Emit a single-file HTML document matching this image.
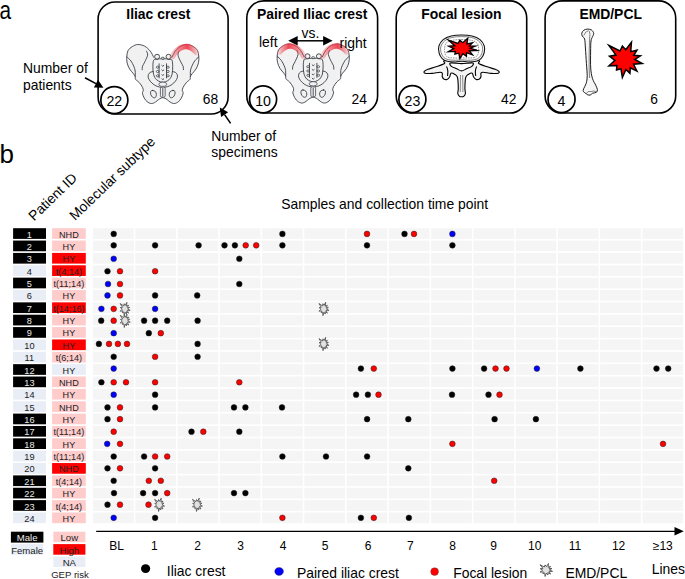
<!DOCTYPE html>
<html><head><meta charset="utf-8"><style>
html,body{margin:0;padding:0;background:#fff;}
svg{display:block;}
svg text{font-family:"Liberation Sans", sans-serif;}
</style></head><body>
<svg width="685" height="579" viewBox="0 0 685 579">
<text transform="translate(-0.6,18.8) scale(0.8,1)" font-size="26" fill="#000">a</text>
<text x="-0.5" y="163" font-size="26" fill="#000">b</text>
<rect x="98.1" y="2.0" width="130.0" height="112.0" rx="17" ry="17" fill="none" stroke="#000" stroke-width="1.6"/>
<rect x="246.8" y="0.85" width="130.8" height="112.2" rx="17" ry="17" fill="none" stroke="#000" stroke-width="1.6"/>
<rect x="396.2" y="0.85" width="130.5" height="112.2" rx="17" ry="17" fill="none" stroke="#000" stroke-width="1.6"/>
<rect x="545.1" y="0.85" width="130.6" height="112.2" rx="17" ry="17" fill="none" stroke="#000" stroke-width="1.6"/>
<text x="126.3" y="19" font-size="13.9" font-weight="bold">Iliac crest</text>
<text x="257.0" y="19" font-size="13.9" font-weight="bold">Paired Iliac crest</text>
<text x="421.2" y="19" font-size="13.9" font-weight="bold">Focal lesion</text>
<text x="579.4" y="19" font-size="13.9" font-weight="bold">EMD/PCL</text>
<circle cx="114.35" cy="100.05" r="13.5" fill="#fff" stroke="#000" stroke-width="1.7"/>
<text x="114.35" y="105.6" font-size="14.2" text-anchor="middle">22</text>
<circle cx="263.1" cy="99.3" r="13.5" fill="#fff" stroke="#000" stroke-width="1.7"/>
<text x="263.1" y="105.6" font-size="14.2" text-anchor="middle">10</text>
<circle cx="412.4" cy="99.15" r="13.5" fill="#fff" stroke="#000" stroke-width="1.7"/>
<text x="412.4" y="105.6" font-size="14.2" text-anchor="middle">23</text>
<circle cx="561.55" cy="99.15" r="13.5" fill="#fff" stroke="#000" stroke-width="1.7"/>
<text x="561.55" y="105.6" font-size="14.2" text-anchor="middle">4</text>
<text x="210.4" y="104" font-size="13.8" text-anchor="middle">68</text>
<text x="359.3" y="104" font-size="13.8" text-anchor="middle">24</text>
<text x="508.8" y="104" font-size="13.8" text-anchor="middle">42</text>
<text x="654.1" y="104" font-size="13.8" text-anchor="middle">6</text>
<text x="23" y="72.8" font-size="13.9">Number of</text>
<text x="23" y="89.5" font-size="13.9">patients</text>
<text x="211.3" y="140.6" font-size="13.9">Number of</text>
<text x="211.3" y="157.1" font-size="13.9">specimens</text>
<line x1="85" y1="77.7" x2="95.93" y2="83.64" stroke="#000" stroke-width="1.6"/>
<polygon points="103.4,87.7 93.88,87.42 97.98,79.86" fill="#000"/>
<line x1="230.6" y1="123.4" x2="224.60" y2="114.62" stroke="#000" stroke-width="1.6"/>
<polygon points="219.8,107.6 228.15,112.19 221.05,117.04" fill="#000"/>
<text transform="translate(34,221.5) rotate(-44)" font-size="13.9">Patient ID</text>
<text transform="translate(75,221) rotate(-44)" font-size="13.9">Molecular subtype</text>
<text x="281.2" y="209.4" font-size="13.9">Samples and collection time point</text>
<rect x="13.1" y="228.20" width="32.9" height="10.7" fill="#000"/>
<text transform="translate(29.4,237.60) scale(0.95,1)" font-size="9.7" text-anchor="middle" fill="#e8e8e8">1</text>
<rect x="52.1" y="228.20" width="33.7" height="10.7" fill="#ffcccc"/>
<text transform="translate(68.9,237.60) scale(0.92,1)" font-size="9.9" text-anchor="middle" fill="#222">NHD</text>
<rect x="93.06" y="228.20" width="40.7" height="10.7" fill="#f5f5f5"/>
<rect x="135.32" y="228.20" width="40.7" height="10.7" fill="#f5f5f5"/>
<rect x="177.58" y="228.20" width="40.7" height="10.7" fill="#f5f5f5"/>
<rect x="219.84" y="228.20" width="40.7" height="10.7" fill="#f5f5f5"/>
<rect x="262.10" y="228.20" width="40.7" height="10.7" fill="#f5f5f5"/>
<rect x="304.36" y="228.20" width="40.7" height="10.7" fill="#f5f5f5"/>
<rect x="346.62" y="228.20" width="40.7" height="10.7" fill="#f5f5f5"/>
<rect x="388.88" y="228.20" width="40.7" height="10.7" fill="#f5f5f5"/>
<rect x="431.14" y="228.20" width="40.7" height="10.7" fill="#f5f5f5"/>
<rect x="473.40" y="228.20" width="40.7" height="10.7" fill="#f5f5f5"/>
<rect x="515.66" y="228.20" width="40.7" height="10.7" fill="#f5f5f5"/>
<rect x="557.92" y="228.20" width="40.7" height="10.7" fill="#f5f5f5"/>
<rect x="600.18" y="228.20" width="40.7" height="10.7" fill="#f5f5f5"/>
<rect x="642.44" y="228.20" width="40.7" height="10.7" fill="#f5f5f5"/>
<rect x="13.1" y="240.56" width="32.9" height="10.7" fill="#000"/>
<text transform="translate(29.4,249.96) scale(0.95,1)" font-size="9.7" text-anchor="middle" fill="#e8e8e8">2</text>
<rect x="52.1" y="240.56" width="33.7" height="10.7" fill="#ffcccc"/>
<text transform="translate(68.9,249.96) scale(0.92,1)" font-size="9.9" text-anchor="middle" fill="#222">HY</text>
<rect x="93.06" y="240.56" width="40.7" height="10.7" fill="#f5f5f5"/>
<rect x="135.32" y="240.56" width="40.7" height="10.7" fill="#f5f5f5"/>
<rect x="177.58" y="240.56" width="40.7" height="10.7" fill="#f5f5f5"/>
<rect x="219.84" y="240.56" width="40.7" height="10.7" fill="#f5f5f5"/>
<rect x="262.10" y="240.56" width="40.7" height="10.7" fill="#f5f5f5"/>
<rect x="304.36" y="240.56" width="40.7" height="10.7" fill="#f5f5f5"/>
<rect x="346.62" y="240.56" width="40.7" height="10.7" fill="#f5f5f5"/>
<rect x="388.88" y="240.56" width="40.7" height="10.7" fill="#f5f5f5"/>
<rect x="431.14" y="240.56" width="40.7" height="10.7" fill="#f5f5f5"/>
<rect x="473.40" y="240.56" width="40.7" height="10.7" fill="#f5f5f5"/>
<rect x="515.66" y="240.56" width="40.7" height="10.7" fill="#f5f5f5"/>
<rect x="557.92" y="240.56" width="40.7" height="10.7" fill="#f5f5f5"/>
<rect x="600.18" y="240.56" width="40.7" height="10.7" fill="#f5f5f5"/>
<rect x="642.44" y="240.56" width="40.7" height="10.7" fill="#f5f5f5"/>
<rect x="13.1" y="252.92" width="32.9" height="10.7" fill="#000"/>
<text transform="translate(29.4,262.32) scale(0.95,1)" font-size="9.7" text-anchor="middle" fill="#e8e8e8">3</text>
<rect x="52.1" y="252.92" width="33.7" height="10.7" fill="#ff0000"/>
<text transform="translate(68.9,262.32) scale(0.92,1)" font-size="9.9" text-anchor="middle" fill="#222">HY</text>
<rect x="93.06" y="252.92" width="40.7" height="10.7" fill="#f5f5f5"/>
<rect x="135.32" y="252.92" width="40.7" height="10.7" fill="#f5f5f5"/>
<rect x="177.58" y="252.92" width="40.7" height="10.7" fill="#f5f5f5"/>
<rect x="219.84" y="252.92" width="40.7" height="10.7" fill="#f5f5f5"/>
<rect x="262.10" y="252.92" width="40.7" height="10.7" fill="#f5f5f5"/>
<rect x="304.36" y="252.92" width="40.7" height="10.7" fill="#f5f5f5"/>
<rect x="346.62" y="252.92" width="40.7" height="10.7" fill="#f5f5f5"/>
<rect x="388.88" y="252.92" width="40.7" height="10.7" fill="#f5f5f5"/>
<rect x="431.14" y="252.92" width="40.7" height="10.7" fill="#f5f5f5"/>
<rect x="473.40" y="252.92" width="40.7" height="10.7" fill="#f5f5f5"/>
<rect x="515.66" y="252.92" width="40.7" height="10.7" fill="#f5f5f5"/>
<rect x="557.92" y="252.92" width="40.7" height="10.7" fill="#f5f5f5"/>
<rect x="600.18" y="252.92" width="40.7" height="10.7" fill="#f5f5f5"/>
<rect x="642.44" y="252.92" width="40.7" height="10.7" fill="#f5f5f5"/>
<rect x="13.1" y="265.28" width="32.9" height="10.7" fill="#e9edf6"/>
<text transform="translate(29.4,274.68) scale(0.95,1)" font-size="9.7" text-anchor="middle" fill="#222">4</text>
<rect x="52.1" y="265.28" width="33.7" height="10.7" fill="#ff0000"/>
<text transform="translate(68.9,274.68) scale(0.92,1)" font-size="9.9" text-anchor="middle" fill="#222">t(4;14)</text>
<rect x="93.06" y="265.28" width="40.7" height="10.7" fill="#f5f5f5"/>
<rect x="135.32" y="265.28" width="40.7" height="10.7" fill="#f5f5f5"/>
<rect x="177.58" y="265.28" width="40.7" height="10.7" fill="#f5f5f5"/>
<rect x="219.84" y="265.28" width="40.7" height="10.7" fill="#f5f5f5"/>
<rect x="262.10" y="265.28" width="40.7" height="10.7" fill="#f5f5f5"/>
<rect x="304.36" y="265.28" width="40.7" height="10.7" fill="#f5f5f5"/>
<rect x="346.62" y="265.28" width="40.7" height="10.7" fill="#f5f5f5"/>
<rect x="388.88" y="265.28" width="40.7" height="10.7" fill="#f5f5f5"/>
<rect x="431.14" y="265.28" width="40.7" height="10.7" fill="#f5f5f5"/>
<rect x="473.40" y="265.28" width="40.7" height="10.7" fill="#f5f5f5"/>
<rect x="515.66" y="265.28" width="40.7" height="10.7" fill="#f5f5f5"/>
<rect x="557.92" y="265.28" width="40.7" height="10.7" fill="#f5f5f5"/>
<rect x="600.18" y="265.28" width="40.7" height="10.7" fill="#f5f5f5"/>
<rect x="642.44" y="265.28" width="40.7" height="10.7" fill="#f5f5f5"/>
<rect x="13.1" y="277.64" width="32.9" height="10.7" fill="#000"/>
<text transform="translate(29.4,287.04) scale(0.95,1)" font-size="9.7" text-anchor="middle" fill="#e8e8e8">5</text>
<rect x="52.1" y="277.64" width="33.7" height="10.7" fill="#ffcccc"/>
<text transform="translate(68.9,287.04) scale(0.92,1)" font-size="9.9" text-anchor="middle" fill="#222">t(11;14)</text>
<rect x="93.06" y="277.64" width="40.7" height="10.7" fill="#f5f5f5"/>
<rect x="135.32" y="277.64" width="40.7" height="10.7" fill="#f5f5f5"/>
<rect x="177.58" y="277.64" width="40.7" height="10.7" fill="#f5f5f5"/>
<rect x="219.84" y="277.64" width="40.7" height="10.7" fill="#f5f5f5"/>
<rect x="262.10" y="277.64" width="40.7" height="10.7" fill="#f5f5f5"/>
<rect x="304.36" y="277.64" width="40.7" height="10.7" fill="#f5f5f5"/>
<rect x="346.62" y="277.64" width="40.7" height="10.7" fill="#f5f5f5"/>
<rect x="388.88" y="277.64" width="40.7" height="10.7" fill="#f5f5f5"/>
<rect x="431.14" y="277.64" width="40.7" height="10.7" fill="#f5f5f5"/>
<rect x="473.40" y="277.64" width="40.7" height="10.7" fill="#f5f5f5"/>
<rect x="515.66" y="277.64" width="40.7" height="10.7" fill="#f5f5f5"/>
<rect x="557.92" y="277.64" width="40.7" height="10.7" fill="#f5f5f5"/>
<rect x="600.18" y="277.64" width="40.7" height="10.7" fill="#f5f5f5"/>
<rect x="642.44" y="277.64" width="40.7" height="10.7" fill="#f5f5f5"/>
<rect x="13.1" y="290.00" width="32.9" height="10.7" fill="#e9edf6"/>
<text transform="translate(29.4,299.40) scale(0.95,1)" font-size="9.7" text-anchor="middle" fill="#222">6</text>
<rect x="52.1" y="290.00" width="33.7" height="10.7" fill="#ffcccc"/>
<text transform="translate(68.9,299.40) scale(0.92,1)" font-size="9.9" text-anchor="middle" fill="#222">HY</text>
<rect x="93.06" y="290.00" width="40.7" height="10.7" fill="#f5f5f5"/>
<rect x="135.32" y="290.00" width="40.7" height="10.7" fill="#f5f5f5"/>
<rect x="177.58" y="290.00" width="40.7" height="10.7" fill="#f5f5f5"/>
<rect x="219.84" y="290.00" width="40.7" height="10.7" fill="#f5f5f5"/>
<rect x="262.10" y="290.00" width="40.7" height="10.7" fill="#f5f5f5"/>
<rect x="304.36" y="290.00" width="40.7" height="10.7" fill="#f5f5f5"/>
<rect x="346.62" y="290.00" width="40.7" height="10.7" fill="#f5f5f5"/>
<rect x="388.88" y="290.00" width="40.7" height="10.7" fill="#f5f5f5"/>
<rect x="431.14" y="290.00" width="40.7" height="10.7" fill="#f5f5f5"/>
<rect x="473.40" y="290.00" width="40.7" height="10.7" fill="#f5f5f5"/>
<rect x="515.66" y="290.00" width="40.7" height="10.7" fill="#f5f5f5"/>
<rect x="557.92" y="290.00" width="40.7" height="10.7" fill="#f5f5f5"/>
<rect x="600.18" y="290.00" width="40.7" height="10.7" fill="#f5f5f5"/>
<rect x="642.44" y="290.00" width="40.7" height="10.7" fill="#f5f5f5"/>
<rect x="13.1" y="302.36" width="32.9" height="10.7" fill="#000"/>
<text transform="translate(29.4,311.76) scale(0.95,1)" font-size="9.7" text-anchor="middle" fill="#e8e8e8">7</text>
<rect x="52.1" y="302.36" width="33.7" height="10.7" fill="#ff0000"/>
<text transform="translate(68.9,311.76) scale(0.92,1)" font-size="9.9" text-anchor="middle" fill="#222">t(14;16)</text>
<rect x="93.06" y="302.36" width="40.7" height="10.7" fill="#f5f5f5"/>
<rect x="135.32" y="302.36" width="40.7" height="10.7" fill="#f5f5f5"/>
<rect x="177.58" y="302.36" width="40.7" height="10.7" fill="#f5f5f5"/>
<rect x="219.84" y="302.36" width="40.7" height="10.7" fill="#f5f5f5"/>
<rect x="262.10" y="302.36" width="40.7" height="10.7" fill="#f5f5f5"/>
<rect x="304.36" y="302.36" width="40.7" height="10.7" fill="#f5f5f5"/>
<rect x="346.62" y="302.36" width="40.7" height="10.7" fill="#f5f5f5"/>
<rect x="388.88" y="302.36" width="40.7" height="10.7" fill="#f5f5f5"/>
<rect x="431.14" y="302.36" width="40.7" height="10.7" fill="#f5f5f5"/>
<rect x="473.40" y="302.36" width="40.7" height="10.7" fill="#f5f5f5"/>
<rect x="515.66" y="302.36" width="40.7" height="10.7" fill="#f5f5f5"/>
<rect x="557.92" y="302.36" width="40.7" height="10.7" fill="#f5f5f5"/>
<rect x="600.18" y="302.36" width="40.7" height="10.7" fill="#f5f5f5"/>
<rect x="642.44" y="302.36" width="40.7" height="10.7" fill="#f5f5f5"/>
<rect x="13.1" y="314.72" width="32.9" height="10.7" fill="#000"/>
<text transform="translate(29.4,324.12) scale(0.95,1)" font-size="9.7" text-anchor="middle" fill="#e8e8e8">8</text>
<rect x="52.1" y="314.72" width="33.7" height="10.7" fill="#ffcccc"/>
<text transform="translate(68.9,324.12) scale(0.92,1)" font-size="9.9" text-anchor="middle" fill="#222">HY</text>
<rect x="93.06" y="314.72" width="40.7" height="10.7" fill="#f5f5f5"/>
<rect x="135.32" y="314.72" width="40.7" height="10.7" fill="#f5f5f5"/>
<rect x="177.58" y="314.72" width="40.7" height="10.7" fill="#f5f5f5"/>
<rect x="219.84" y="314.72" width="40.7" height="10.7" fill="#f5f5f5"/>
<rect x="262.10" y="314.72" width="40.7" height="10.7" fill="#f5f5f5"/>
<rect x="304.36" y="314.72" width="40.7" height="10.7" fill="#f5f5f5"/>
<rect x="346.62" y="314.72" width="40.7" height="10.7" fill="#f5f5f5"/>
<rect x="388.88" y="314.72" width="40.7" height="10.7" fill="#f5f5f5"/>
<rect x="431.14" y="314.72" width="40.7" height="10.7" fill="#f5f5f5"/>
<rect x="473.40" y="314.72" width="40.7" height="10.7" fill="#f5f5f5"/>
<rect x="515.66" y="314.72" width="40.7" height="10.7" fill="#f5f5f5"/>
<rect x="557.92" y="314.72" width="40.7" height="10.7" fill="#f5f5f5"/>
<rect x="600.18" y="314.72" width="40.7" height="10.7" fill="#f5f5f5"/>
<rect x="642.44" y="314.72" width="40.7" height="10.7" fill="#f5f5f5"/>
<rect x="13.1" y="327.08" width="32.9" height="10.7" fill="#000"/>
<text transform="translate(29.4,336.48) scale(0.95,1)" font-size="9.7" text-anchor="middle" fill="#e8e8e8">9</text>
<rect x="52.1" y="327.08" width="33.7" height="10.7" fill="#ffcccc"/>
<text transform="translate(68.9,336.48) scale(0.92,1)" font-size="9.9" text-anchor="middle" fill="#222">HY</text>
<rect x="93.06" y="327.08" width="40.7" height="10.7" fill="#f5f5f5"/>
<rect x="135.32" y="327.08" width="40.7" height="10.7" fill="#f5f5f5"/>
<rect x="177.58" y="327.08" width="40.7" height="10.7" fill="#f5f5f5"/>
<rect x="219.84" y="327.08" width="40.7" height="10.7" fill="#f5f5f5"/>
<rect x="262.10" y="327.08" width="40.7" height="10.7" fill="#f5f5f5"/>
<rect x="304.36" y="327.08" width="40.7" height="10.7" fill="#f5f5f5"/>
<rect x="346.62" y="327.08" width="40.7" height="10.7" fill="#f5f5f5"/>
<rect x="388.88" y="327.08" width="40.7" height="10.7" fill="#f5f5f5"/>
<rect x="431.14" y="327.08" width="40.7" height="10.7" fill="#f5f5f5"/>
<rect x="473.40" y="327.08" width="40.7" height="10.7" fill="#f5f5f5"/>
<rect x="515.66" y="327.08" width="40.7" height="10.7" fill="#f5f5f5"/>
<rect x="557.92" y="327.08" width="40.7" height="10.7" fill="#f5f5f5"/>
<rect x="600.18" y="327.08" width="40.7" height="10.7" fill="#f5f5f5"/>
<rect x="642.44" y="327.08" width="40.7" height="10.7" fill="#f5f5f5"/>
<rect x="13.1" y="339.44" width="32.9" height="10.7" fill="#e9edf6"/>
<text transform="translate(29.4,348.84) scale(0.95,1)" font-size="9.7" text-anchor="middle" fill="#222">10</text>
<rect x="52.1" y="339.44" width="33.7" height="10.7" fill="#ff0000"/>
<text transform="translate(68.9,348.84) scale(0.92,1)" font-size="9.9" text-anchor="middle" fill="#222">HY</text>
<rect x="93.06" y="339.44" width="40.7" height="10.7" fill="#f5f5f5"/>
<rect x="135.32" y="339.44" width="40.7" height="10.7" fill="#f5f5f5"/>
<rect x="177.58" y="339.44" width="40.7" height="10.7" fill="#f5f5f5"/>
<rect x="219.84" y="339.44" width="40.7" height="10.7" fill="#f5f5f5"/>
<rect x="262.10" y="339.44" width="40.7" height="10.7" fill="#f5f5f5"/>
<rect x="304.36" y="339.44" width="40.7" height="10.7" fill="#f5f5f5"/>
<rect x="346.62" y="339.44" width="40.7" height="10.7" fill="#f5f5f5"/>
<rect x="388.88" y="339.44" width="40.7" height="10.7" fill="#f5f5f5"/>
<rect x="431.14" y="339.44" width="40.7" height="10.7" fill="#f5f5f5"/>
<rect x="473.40" y="339.44" width="40.7" height="10.7" fill="#f5f5f5"/>
<rect x="515.66" y="339.44" width="40.7" height="10.7" fill="#f5f5f5"/>
<rect x="557.92" y="339.44" width="40.7" height="10.7" fill="#f5f5f5"/>
<rect x="600.18" y="339.44" width="40.7" height="10.7" fill="#f5f5f5"/>
<rect x="642.44" y="339.44" width="40.7" height="10.7" fill="#f5f5f5"/>
<rect x="13.1" y="351.80" width="32.9" height="10.7" fill="#e9edf6"/>
<text transform="translate(29.4,361.20) scale(0.95,1)" font-size="9.7" text-anchor="middle" fill="#222">11</text>
<rect x="52.1" y="351.80" width="33.7" height="10.7" fill="#ffcccc"/>
<text transform="translate(68.9,361.20) scale(0.92,1)" font-size="9.9" text-anchor="middle" fill="#222">t(6;14)</text>
<rect x="93.06" y="351.80" width="40.7" height="10.7" fill="#f5f5f5"/>
<rect x="135.32" y="351.80" width="40.7" height="10.7" fill="#f5f5f5"/>
<rect x="177.58" y="351.80" width="40.7" height="10.7" fill="#f5f5f5"/>
<rect x="219.84" y="351.80" width="40.7" height="10.7" fill="#f5f5f5"/>
<rect x="262.10" y="351.80" width="40.7" height="10.7" fill="#f5f5f5"/>
<rect x="304.36" y="351.80" width="40.7" height="10.7" fill="#f5f5f5"/>
<rect x="346.62" y="351.80" width="40.7" height="10.7" fill="#f5f5f5"/>
<rect x="388.88" y="351.80" width="40.7" height="10.7" fill="#f5f5f5"/>
<rect x="431.14" y="351.80" width="40.7" height="10.7" fill="#f5f5f5"/>
<rect x="473.40" y="351.80" width="40.7" height="10.7" fill="#f5f5f5"/>
<rect x="515.66" y="351.80" width="40.7" height="10.7" fill="#f5f5f5"/>
<rect x="557.92" y="351.80" width="40.7" height="10.7" fill="#f5f5f5"/>
<rect x="600.18" y="351.80" width="40.7" height="10.7" fill="#f5f5f5"/>
<rect x="642.44" y="351.80" width="40.7" height="10.7" fill="#f5f5f5"/>
<rect x="13.1" y="364.16" width="32.9" height="10.7" fill="#000"/>
<text transform="translate(29.4,373.56) scale(0.95,1)" font-size="9.7" text-anchor="middle" fill="#e8e8e8">12</text>
<rect x="52.1" y="364.16" width="33.7" height="10.7" fill="#e9edf6"/>
<text transform="translate(68.9,373.56) scale(0.92,1)" font-size="9.9" text-anchor="middle" fill="#222">HY</text>
<rect x="93.06" y="364.16" width="40.7" height="10.7" fill="#f5f5f5"/>
<rect x="135.32" y="364.16" width="40.7" height="10.7" fill="#f5f5f5"/>
<rect x="177.58" y="364.16" width="40.7" height="10.7" fill="#f5f5f5"/>
<rect x="219.84" y="364.16" width="40.7" height="10.7" fill="#f5f5f5"/>
<rect x="262.10" y="364.16" width="40.7" height="10.7" fill="#f5f5f5"/>
<rect x="304.36" y="364.16" width="40.7" height="10.7" fill="#f5f5f5"/>
<rect x="346.62" y="364.16" width="40.7" height="10.7" fill="#f5f5f5"/>
<rect x="388.88" y="364.16" width="40.7" height="10.7" fill="#f5f5f5"/>
<rect x="431.14" y="364.16" width="40.7" height="10.7" fill="#f5f5f5"/>
<rect x="473.40" y="364.16" width="40.7" height="10.7" fill="#f5f5f5"/>
<rect x="515.66" y="364.16" width="40.7" height="10.7" fill="#f5f5f5"/>
<rect x="557.92" y="364.16" width="40.7" height="10.7" fill="#f5f5f5"/>
<rect x="600.18" y="364.16" width="40.7" height="10.7" fill="#f5f5f5"/>
<rect x="642.44" y="364.16" width="40.7" height="10.7" fill="#f5f5f5"/>
<rect x="13.1" y="376.52" width="32.9" height="10.7" fill="#000"/>
<text transform="translate(29.4,385.92) scale(0.95,1)" font-size="9.7" text-anchor="middle" fill="#e8e8e8">13</text>
<rect x="52.1" y="376.52" width="33.7" height="10.7" fill="#ffcccc"/>
<text transform="translate(68.9,385.92) scale(0.92,1)" font-size="9.9" text-anchor="middle" fill="#222">NHD</text>
<rect x="93.06" y="376.52" width="40.7" height="10.7" fill="#f5f5f5"/>
<rect x="135.32" y="376.52" width="40.7" height="10.7" fill="#f5f5f5"/>
<rect x="177.58" y="376.52" width="40.7" height="10.7" fill="#f5f5f5"/>
<rect x="219.84" y="376.52" width="40.7" height="10.7" fill="#f5f5f5"/>
<rect x="262.10" y="376.52" width="40.7" height="10.7" fill="#f5f5f5"/>
<rect x="304.36" y="376.52" width="40.7" height="10.7" fill="#f5f5f5"/>
<rect x="346.62" y="376.52" width="40.7" height="10.7" fill="#f5f5f5"/>
<rect x="388.88" y="376.52" width="40.7" height="10.7" fill="#f5f5f5"/>
<rect x="431.14" y="376.52" width="40.7" height="10.7" fill="#f5f5f5"/>
<rect x="473.40" y="376.52" width="40.7" height="10.7" fill="#f5f5f5"/>
<rect x="515.66" y="376.52" width="40.7" height="10.7" fill="#f5f5f5"/>
<rect x="557.92" y="376.52" width="40.7" height="10.7" fill="#f5f5f5"/>
<rect x="600.18" y="376.52" width="40.7" height="10.7" fill="#f5f5f5"/>
<rect x="642.44" y="376.52" width="40.7" height="10.7" fill="#f5f5f5"/>
<rect x="13.1" y="388.88" width="32.9" height="10.7" fill="#e9edf6"/>
<text transform="translate(29.4,398.28) scale(0.95,1)" font-size="9.7" text-anchor="middle" fill="#222">14</text>
<rect x="52.1" y="388.88" width="33.7" height="10.7" fill="#ffcccc"/>
<text transform="translate(68.9,398.28) scale(0.92,1)" font-size="9.9" text-anchor="middle" fill="#222">HY</text>
<rect x="93.06" y="388.88" width="40.7" height="10.7" fill="#f5f5f5"/>
<rect x="135.32" y="388.88" width="40.7" height="10.7" fill="#f5f5f5"/>
<rect x="177.58" y="388.88" width="40.7" height="10.7" fill="#f5f5f5"/>
<rect x="219.84" y="388.88" width="40.7" height="10.7" fill="#f5f5f5"/>
<rect x="262.10" y="388.88" width="40.7" height="10.7" fill="#f5f5f5"/>
<rect x="304.36" y="388.88" width="40.7" height="10.7" fill="#f5f5f5"/>
<rect x="346.62" y="388.88" width="40.7" height="10.7" fill="#f5f5f5"/>
<rect x="388.88" y="388.88" width="40.7" height="10.7" fill="#f5f5f5"/>
<rect x="431.14" y="388.88" width="40.7" height="10.7" fill="#f5f5f5"/>
<rect x="473.40" y="388.88" width="40.7" height="10.7" fill="#f5f5f5"/>
<rect x="515.66" y="388.88" width="40.7" height="10.7" fill="#f5f5f5"/>
<rect x="557.92" y="388.88" width="40.7" height="10.7" fill="#f5f5f5"/>
<rect x="600.18" y="388.88" width="40.7" height="10.7" fill="#f5f5f5"/>
<rect x="642.44" y="388.88" width="40.7" height="10.7" fill="#f5f5f5"/>
<rect x="13.1" y="401.24" width="32.9" height="10.7" fill="#e9edf6"/>
<text transform="translate(29.4,410.64) scale(0.95,1)" font-size="9.7" text-anchor="middle" fill="#222">15</text>
<rect x="52.1" y="401.24" width="33.7" height="10.7" fill="#ffcccc"/>
<text transform="translate(68.9,410.64) scale(0.92,1)" font-size="9.9" text-anchor="middle" fill="#222">NHD</text>
<rect x="93.06" y="401.24" width="40.7" height="10.7" fill="#f5f5f5"/>
<rect x="135.32" y="401.24" width="40.7" height="10.7" fill="#f5f5f5"/>
<rect x="177.58" y="401.24" width="40.7" height="10.7" fill="#f5f5f5"/>
<rect x="219.84" y="401.24" width="40.7" height="10.7" fill="#f5f5f5"/>
<rect x="262.10" y="401.24" width="40.7" height="10.7" fill="#f5f5f5"/>
<rect x="304.36" y="401.24" width="40.7" height="10.7" fill="#f5f5f5"/>
<rect x="346.62" y="401.24" width="40.7" height="10.7" fill="#f5f5f5"/>
<rect x="388.88" y="401.24" width="40.7" height="10.7" fill="#f5f5f5"/>
<rect x="431.14" y="401.24" width="40.7" height="10.7" fill="#f5f5f5"/>
<rect x="473.40" y="401.24" width="40.7" height="10.7" fill="#f5f5f5"/>
<rect x="515.66" y="401.24" width="40.7" height="10.7" fill="#f5f5f5"/>
<rect x="557.92" y="401.24" width="40.7" height="10.7" fill="#f5f5f5"/>
<rect x="600.18" y="401.24" width="40.7" height="10.7" fill="#f5f5f5"/>
<rect x="642.44" y="401.24" width="40.7" height="10.7" fill="#f5f5f5"/>
<rect x="13.1" y="413.60" width="32.9" height="10.7" fill="#000"/>
<text transform="translate(29.4,423.00) scale(0.95,1)" font-size="9.7" text-anchor="middle" fill="#e8e8e8">16</text>
<rect x="52.1" y="413.60" width="33.7" height="10.7" fill="#ffcccc"/>
<text transform="translate(68.9,423.00) scale(0.92,1)" font-size="9.9" text-anchor="middle" fill="#222">HY</text>
<rect x="93.06" y="413.60" width="40.7" height="10.7" fill="#f5f5f5"/>
<rect x="135.32" y="413.60" width="40.7" height="10.7" fill="#f5f5f5"/>
<rect x="177.58" y="413.60" width="40.7" height="10.7" fill="#f5f5f5"/>
<rect x="219.84" y="413.60" width="40.7" height="10.7" fill="#f5f5f5"/>
<rect x="262.10" y="413.60" width="40.7" height="10.7" fill="#f5f5f5"/>
<rect x="304.36" y="413.60" width="40.7" height="10.7" fill="#f5f5f5"/>
<rect x="346.62" y="413.60" width="40.7" height="10.7" fill="#f5f5f5"/>
<rect x="388.88" y="413.60" width="40.7" height="10.7" fill="#f5f5f5"/>
<rect x="431.14" y="413.60" width="40.7" height="10.7" fill="#f5f5f5"/>
<rect x="473.40" y="413.60" width="40.7" height="10.7" fill="#f5f5f5"/>
<rect x="515.66" y="413.60" width="40.7" height="10.7" fill="#f5f5f5"/>
<rect x="557.92" y="413.60" width="40.7" height="10.7" fill="#f5f5f5"/>
<rect x="600.18" y="413.60" width="40.7" height="10.7" fill="#f5f5f5"/>
<rect x="642.44" y="413.60" width="40.7" height="10.7" fill="#f5f5f5"/>
<rect x="13.1" y="425.96" width="32.9" height="10.7" fill="#000"/>
<text transform="translate(29.4,435.36) scale(0.95,1)" font-size="9.7" text-anchor="middle" fill="#e8e8e8">17</text>
<rect x="52.1" y="425.96" width="33.7" height="10.7" fill="#ffcccc"/>
<text transform="translate(68.9,435.36) scale(0.92,1)" font-size="9.9" text-anchor="middle" fill="#222">t(11;14)</text>
<rect x="93.06" y="425.96" width="40.7" height="10.7" fill="#f5f5f5"/>
<rect x="135.32" y="425.96" width="40.7" height="10.7" fill="#f5f5f5"/>
<rect x="177.58" y="425.96" width="40.7" height="10.7" fill="#f5f5f5"/>
<rect x="219.84" y="425.96" width="40.7" height="10.7" fill="#f5f5f5"/>
<rect x="262.10" y="425.96" width="40.7" height="10.7" fill="#f5f5f5"/>
<rect x="304.36" y="425.96" width="40.7" height="10.7" fill="#f5f5f5"/>
<rect x="346.62" y="425.96" width="40.7" height="10.7" fill="#f5f5f5"/>
<rect x="388.88" y="425.96" width="40.7" height="10.7" fill="#f5f5f5"/>
<rect x="431.14" y="425.96" width="40.7" height="10.7" fill="#f5f5f5"/>
<rect x="473.40" y="425.96" width="40.7" height="10.7" fill="#f5f5f5"/>
<rect x="515.66" y="425.96" width="40.7" height="10.7" fill="#f5f5f5"/>
<rect x="557.92" y="425.96" width="40.7" height="10.7" fill="#f5f5f5"/>
<rect x="600.18" y="425.96" width="40.7" height="10.7" fill="#f5f5f5"/>
<rect x="642.44" y="425.96" width="40.7" height="10.7" fill="#f5f5f5"/>
<rect x="13.1" y="438.32" width="32.9" height="10.7" fill="#000"/>
<text transform="translate(29.4,447.72) scale(0.95,1)" font-size="9.7" text-anchor="middle" fill="#e8e8e8">18</text>
<rect x="52.1" y="438.32" width="33.7" height="10.7" fill="#ffcccc"/>
<text transform="translate(68.9,447.72) scale(0.92,1)" font-size="9.9" text-anchor="middle" fill="#222">HY</text>
<rect x="93.06" y="438.32" width="40.7" height="10.7" fill="#f5f5f5"/>
<rect x="135.32" y="438.32" width="40.7" height="10.7" fill="#f5f5f5"/>
<rect x="177.58" y="438.32" width="40.7" height="10.7" fill="#f5f5f5"/>
<rect x="219.84" y="438.32" width="40.7" height="10.7" fill="#f5f5f5"/>
<rect x="262.10" y="438.32" width="40.7" height="10.7" fill="#f5f5f5"/>
<rect x="304.36" y="438.32" width="40.7" height="10.7" fill="#f5f5f5"/>
<rect x="346.62" y="438.32" width="40.7" height="10.7" fill="#f5f5f5"/>
<rect x="388.88" y="438.32" width="40.7" height="10.7" fill="#f5f5f5"/>
<rect x="431.14" y="438.32" width="40.7" height="10.7" fill="#f5f5f5"/>
<rect x="473.40" y="438.32" width="40.7" height="10.7" fill="#f5f5f5"/>
<rect x="515.66" y="438.32" width="40.7" height="10.7" fill="#f5f5f5"/>
<rect x="557.92" y="438.32" width="40.7" height="10.7" fill="#f5f5f5"/>
<rect x="600.18" y="438.32" width="40.7" height="10.7" fill="#f5f5f5"/>
<rect x="642.44" y="438.32" width="40.7" height="10.7" fill="#f5f5f5"/>
<rect x="13.1" y="450.68" width="32.9" height="10.7" fill="#e9edf6"/>
<text transform="translate(29.4,460.08) scale(0.95,1)" font-size="9.7" text-anchor="middle" fill="#222">19</text>
<rect x="52.1" y="450.68" width="33.7" height="10.7" fill="#ffcccc"/>
<text transform="translate(68.9,460.08) scale(0.92,1)" font-size="9.9" text-anchor="middle" fill="#222">t(11;14)</text>
<rect x="93.06" y="450.68" width="40.7" height="10.7" fill="#f5f5f5"/>
<rect x="135.32" y="450.68" width="40.7" height="10.7" fill="#f5f5f5"/>
<rect x="177.58" y="450.68" width="40.7" height="10.7" fill="#f5f5f5"/>
<rect x="219.84" y="450.68" width="40.7" height="10.7" fill="#f5f5f5"/>
<rect x="262.10" y="450.68" width="40.7" height="10.7" fill="#f5f5f5"/>
<rect x="304.36" y="450.68" width="40.7" height="10.7" fill="#f5f5f5"/>
<rect x="346.62" y="450.68" width="40.7" height="10.7" fill="#f5f5f5"/>
<rect x="388.88" y="450.68" width="40.7" height="10.7" fill="#f5f5f5"/>
<rect x="431.14" y="450.68" width="40.7" height="10.7" fill="#f5f5f5"/>
<rect x="473.40" y="450.68" width="40.7" height="10.7" fill="#f5f5f5"/>
<rect x="515.66" y="450.68" width="40.7" height="10.7" fill="#f5f5f5"/>
<rect x="557.92" y="450.68" width="40.7" height="10.7" fill="#f5f5f5"/>
<rect x="600.18" y="450.68" width="40.7" height="10.7" fill="#f5f5f5"/>
<rect x="642.44" y="450.68" width="40.7" height="10.7" fill="#f5f5f5"/>
<rect x="13.1" y="463.04" width="32.9" height="10.7" fill="#e9edf6"/>
<text transform="translate(29.4,472.44) scale(0.95,1)" font-size="9.7" text-anchor="middle" fill="#222">20</text>
<rect x="52.1" y="463.04" width="33.7" height="10.7" fill="#ff0000"/>
<text transform="translate(68.9,472.44) scale(0.92,1)" font-size="9.9" text-anchor="middle" fill="#222">NHD</text>
<rect x="93.06" y="463.04" width="40.7" height="10.7" fill="#f5f5f5"/>
<rect x="135.32" y="463.04" width="40.7" height="10.7" fill="#f5f5f5"/>
<rect x="177.58" y="463.04" width="40.7" height="10.7" fill="#f5f5f5"/>
<rect x="219.84" y="463.04" width="40.7" height="10.7" fill="#f5f5f5"/>
<rect x="262.10" y="463.04" width="40.7" height="10.7" fill="#f5f5f5"/>
<rect x="304.36" y="463.04" width="40.7" height="10.7" fill="#f5f5f5"/>
<rect x="346.62" y="463.04" width="40.7" height="10.7" fill="#f5f5f5"/>
<rect x="388.88" y="463.04" width="40.7" height="10.7" fill="#f5f5f5"/>
<rect x="431.14" y="463.04" width="40.7" height="10.7" fill="#f5f5f5"/>
<rect x="473.40" y="463.04" width="40.7" height="10.7" fill="#f5f5f5"/>
<rect x="515.66" y="463.04" width="40.7" height="10.7" fill="#f5f5f5"/>
<rect x="557.92" y="463.04" width="40.7" height="10.7" fill="#f5f5f5"/>
<rect x="600.18" y="463.04" width="40.7" height="10.7" fill="#f5f5f5"/>
<rect x="642.44" y="463.04" width="40.7" height="10.7" fill="#f5f5f5"/>
<rect x="13.1" y="475.40" width="32.9" height="10.7" fill="#000"/>
<text transform="translate(29.4,484.80) scale(0.95,1)" font-size="9.7" text-anchor="middle" fill="#e8e8e8">21</text>
<rect x="52.1" y="475.40" width="33.7" height="10.7" fill="#ffcccc"/>
<text transform="translate(68.9,484.80) scale(0.92,1)" font-size="9.9" text-anchor="middle" fill="#222">t(4;14)</text>
<rect x="93.06" y="475.40" width="40.7" height="10.7" fill="#f5f5f5"/>
<rect x="135.32" y="475.40" width="40.7" height="10.7" fill="#f5f5f5"/>
<rect x="177.58" y="475.40" width="40.7" height="10.7" fill="#f5f5f5"/>
<rect x="219.84" y="475.40" width="40.7" height="10.7" fill="#f5f5f5"/>
<rect x="262.10" y="475.40" width="40.7" height="10.7" fill="#f5f5f5"/>
<rect x="304.36" y="475.40" width="40.7" height="10.7" fill="#f5f5f5"/>
<rect x="346.62" y="475.40" width="40.7" height="10.7" fill="#f5f5f5"/>
<rect x="388.88" y="475.40" width="40.7" height="10.7" fill="#f5f5f5"/>
<rect x="431.14" y="475.40" width="40.7" height="10.7" fill="#f5f5f5"/>
<rect x="473.40" y="475.40" width="40.7" height="10.7" fill="#f5f5f5"/>
<rect x="515.66" y="475.40" width="40.7" height="10.7" fill="#f5f5f5"/>
<rect x="557.92" y="475.40" width="40.7" height="10.7" fill="#f5f5f5"/>
<rect x="600.18" y="475.40" width="40.7" height="10.7" fill="#f5f5f5"/>
<rect x="642.44" y="475.40" width="40.7" height="10.7" fill="#f5f5f5"/>
<rect x="13.1" y="487.76" width="32.9" height="10.7" fill="#000"/>
<text transform="translate(29.4,497.16) scale(0.95,1)" font-size="9.7" text-anchor="middle" fill="#e8e8e8">22</text>
<rect x="52.1" y="487.76" width="33.7" height="10.7" fill="#ffcccc"/>
<text transform="translate(68.9,497.16) scale(0.92,1)" font-size="9.9" text-anchor="middle" fill="#222">HY</text>
<rect x="93.06" y="487.76" width="40.7" height="10.7" fill="#f5f5f5"/>
<rect x="135.32" y="487.76" width="40.7" height="10.7" fill="#f5f5f5"/>
<rect x="177.58" y="487.76" width="40.7" height="10.7" fill="#f5f5f5"/>
<rect x="219.84" y="487.76" width="40.7" height="10.7" fill="#f5f5f5"/>
<rect x="262.10" y="487.76" width="40.7" height="10.7" fill="#f5f5f5"/>
<rect x="304.36" y="487.76" width="40.7" height="10.7" fill="#f5f5f5"/>
<rect x="346.62" y="487.76" width="40.7" height="10.7" fill="#f5f5f5"/>
<rect x="388.88" y="487.76" width="40.7" height="10.7" fill="#f5f5f5"/>
<rect x="431.14" y="487.76" width="40.7" height="10.7" fill="#f5f5f5"/>
<rect x="473.40" y="487.76" width="40.7" height="10.7" fill="#f5f5f5"/>
<rect x="515.66" y="487.76" width="40.7" height="10.7" fill="#f5f5f5"/>
<rect x="557.92" y="487.76" width="40.7" height="10.7" fill="#f5f5f5"/>
<rect x="600.18" y="487.76" width="40.7" height="10.7" fill="#f5f5f5"/>
<rect x="642.44" y="487.76" width="40.7" height="10.7" fill="#f5f5f5"/>
<rect x="13.1" y="500.12" width="32.9" height="10.7" fill="#000"/>
<text transform="translate(29.4,509.52) scale(0.95,1)" font-size="9.7" text-anchor="middle" fill="#e8e8e8">23</text>
<rect x="52.1" y="500.12" width="33.7" height="10.7" fill="#ffcccc"/>
<text transform="translate(68.9,509.52) scale(0.92,1)" font-size="9.9" text-anchor="middle" fill="#222">t(4;14)</text>
<rect x="93.06" y="500.12" width="40.7" height="10.7" fill="#f5f5f5"/>
<rect x="135.32" y="500.12" width="40.7" height="10.7" fill="#f5f5f5"/>
<rect x="177.58" y="500.12" width="40.7" height="10.7" fill="#f5f5f5"/>
<rect x="219.84" y="500.12" width="40.7" height="10.7" fill="#f5f5f5"/>
<rect x="262.10" y="500.12" width="40.7" height="10.7" fill="#f5f5f5"/>
<rect x="304.36" y="500.12" width="40.7" height="10.7" fill="#f5f5f5"/>
<rect x="346.62" y="500.12" width="40.7" height="10.7" fill="#f5f5f5"/>
<rect x="388.88" y="500.12" width="40.7" height="10.7" fill="#f5f5f5"/>
<rect x="431.14" y="500.12" width="40.7" height="10.7" fill="#f5f5f5"/>
<rect x="473.40" y="500.12" width="40.7" height="10.7" fill="#f5f5f5"/>
<rect x="515.66" y="500.12" width="40.7" height="10.7" fill="#f5f5f5"/>
<rect x="557.92" y="500.12" width="40.7" height="10.7" fill="#f5f5f5"/>
<rect x="600.18" y="500.12" width="40.7" height="10.7" fill="#f5f5f5"/>
<rect x="642.44" y="500.12" width="40.7" height="10.7" fill="#f5f5f5"/>
<rect x="13.1" y="512.48" width="32.9" height="10.7" fill="#e9edf6"/>
<text transform="translate(29.4,521.88) scale(0.95,1)" font-size="9.7" text-anchor="middle" fill="#222">24</text>
<rect x="52.1" y="512.48" width="33.7" height="10.7" fill="#ffcccc"/>
<text transform="translate(68.9,521.88) scale(0.92,1)" font-size="9.9" text-anchor="middle" fill="#222">HY</text>
<rect x="93.06" y="512.48" width="40.7" height="10.7" fill="#f5f5f5"/>
<rect x="135.32" y="512.48" width="40.7" height="10.7" fill="#f5f5f5"/>
<rect x="177.58" y="512.48" width="40.7" height="10.7" fill="#f5f5f5"/>
<rect x="219.84" y="512.48" width="40.7" height="10.7" fill="#f5f5f5"/>
<rect x="262.10" y="512.48" width="40.7" height="10.7" fill="#f5f5f5"/>
<rect x="304.36" y="512.48" width="40.7" height="10.7" fill="#f5f5f5"/>
<rect x="346.62" y="512.48" width="40.7" height="10.7" fill="#f5f5f5"/>
<rect x="388.88" y="512.48" width="40.7" height="10.7" fill="#f5f5f5"/>
<rect x="431.14" y="512.48" width="40.7" height="10.7" fill="#f5f5f5"/>
<rect x="473.40" y="512.48" width="40.7" height="10.7" fill="#f5f5f5"/>
<rect x="515.66" y="512.48" width="40.7" height="10.7" fill="#f5f5f5"/>
<rect x="557.92" y="512.48" width="40.7" height="10.7" fill="#f5f5f5"/>
<rect x="600.18" y="512.48" width="40.7" height="10.7" fill="#f5f5f5"/>
<rect x="642.44" y="512.48" width="40.7" height="10.7" fill="#f5f5f5"/>
<circle cx="113.7" cy="233.90" r="2.85" fill="#000" stroke="#222" stroke-width="0.5"/>
<circle cx="282.4" cy="233.90" r="2.85" fill="#000" stroke="#222" stroke-width="0.5"/>
<circle cx="367" cy="233.90" r="2.85" fill="#ff0000" stroke="#222" stroke-width="0.5"/>
<circle cx="404.5" cy="233.90" r="2.85" fill="#000" stroke="#222" stroke-width="0.5"/>
<circle cx="414" cy="233.90" r="2.85" fill="#ff0000" stroke="#222" stroke-width="0.5"/>
<circle cx="452.4" cy="233.90" r="2.85" fill="#0000ff" stroke="#222" stroke-width="0.5"/>
<circle cx="113.7" cy="245.31" r="2.85" fill="#000" stroke="#222" stroke-width="0.5"/>
<circle cx="155.1" cy="245.31" r="2.85" fill="#000" stroke="#222" stroke-width="0.5"/>
<circle cx="198.6" cy="245.31" r="2.85" fill="#000" stroke="#222" stroke-width="0.5"/>
<circle cx="224.5" cy="245.31" r="2.85" fill="#000" stroke="#222" stroke-width="0.5"/>
<circle cx="234.9" cy="245.31" r="2.85" fill="#000" stroke="#222" stroke-width="0.5"/>
<circle cx="245.7" cy="245.31" r="2.85" fill="#ff0000" stroke="#222" stroke-width="0.5"/>
<circle cx="256.2" cy="245.31" r="2.85" fill="#ff0000" stroke="#222" stroke-width="0.5"/>
<circle cx="282.4" cy="245.31" r="2.85" fill="#000" stroke="#222" stroke-width="0.5"/>
<circle cx="367" cy="245.31" r="2.85" fill="#000" stroke="#222" stroke-width="0.5"/>
<circle cx="452.4" cy="245.31" r="2.85" fill="#000" stroke="#222" stroke-width="0.5"/>
<circle cx="113.7" cy="258.77" r="2.85" fill="#0000ff" stroke="#222" stroke-width="0.5"/>
<circle cx="239.3" cy="258.77" r="2.85" fill="#000" stroke="#222" stroke-width="0.5"/>
<circle cx="107.5" cy="271.23" r="2.85" fill="#000" stroke="#222" stroke-width="0.5"/>
<circle cx="120" cy="271.23" r="2.85" fill="#ff0000" stroke="#222" stroke-width="0.5"/>
<circle cx="155.1" cy="271.23" r="2.85" fill="#ff0000" stroke="#222" stroke-width="0.5"/>
<circle cx="108" cy="283.99" r="2.85" fill="#0000ff" stroke="#222" stroke-width="0.5"/>
<circle cx="120" cy="283.99" r="2.85" fill="#ff0000" stroke="#222" stroke-width="0.5"/>
<circle cx="239.3" cy="283.99" r="2.85" fill="#000" stroke="#222" stroke-width="0.5"/>
<circle cx="107.5" cy="295.45" r="2.85" fill="#0000ff" stroke="#222" stroke-width="0.5"/>
<circle cx="120" cy="295.45" r="2.85" fill="#ff0000" stroke="#222" stroke-width="0.5"/>
<circle cx="155.1" cy="295.45" r="2.85" fill="#000" stroke="#222" stroke-width="0.5"/>
<circle cx="197.2" cy="295.45" r="2.85" fill="#000" stroke="#222" stroke-width="0.5"/>
<circle cx="101.4" cy="308.86" r="2.85" fill="#0000ff" stroke="#222" stroke-width="0.5"/>
<circle cx="113.7" cy="308.86" r="2.85" fill="#ff0000" stroke="#222" stroke-width="0.5"/>
<circle cx="155.1" cy="308.86" r="2.85" fill="#0000ff" stroke="#222" stroke-width="0.5"/>
<circle cx="101.2" cy="320.67" r="2.85" fill="#000" stroke="#222" stroke-width="0.5"/>
<circle cx="113.7" cy="320.67" r="2.85" fill="#ff0000" stroke="#222" stroke-width="0.5"/>
<circle cx="144.1" cy="320.67" r="2.85" fill="#000" stroke="#222" stroke-width="0.5"/>
<circle cx="155.1" cy="320.67" r="2.85" fill="#000" stroke="#222" stroke-width="0.5"/>
<circle cx="167.2" cy="320.67" r="2.85" fill="#000" stroke="#222" stroke-width="0.5"/>
<circle cx="197.6" cy="320.67" r="2.85" fill="#000" stroke="#222" stroke-width="0.5"/>
<circle cx="113.7" cy="333.18" r="2.85" fill="#0000ff" stroke="#222" stroke-width="0.5"/>
<circle cx="148.8" cy="333.18" r="2.85" fill="#000" stroke="#222" stroke-width="0.5"/>
<circle cx="160.8" cy="333.18" r="2.85" fill="#ff0000" stroke="#222" stroke-width="0.5"/>
<circle cx="98.9" cy="343.89" r="2.85" fill="#000" stroke="#222" stroke-width="0.5"/>
<circle cx="109" cy="343.89" r="2.85" fill="#ff0000" stroke="#222" stroke-width="0.5"/>
<circle cx="117.9" cy="343.89" r="2.85" fill="#ff0000" stroke="#222" stroke-width="0.5"/>
<circle cx="127" cy="343.89" r="2.85" fill="#ff0000" stroke="#222" stroke-width="0.5"/>
<circle cx="197.6" cy="343.89" r="2.85" fill="#000" stroke="#222" stroke-width="0.5"/>
<circle cx="113.7" cy="356.75" r="2.85" fill="#000" stroke="#222" stroke-width="0.5"/>
<circle cx="155.1" cy="356.75" r="2.85" fill="#ff0000" stroke="#222" stroke-width="0.5"/>
<circle cx="197.6" cy="356.75" r="2.85" fill="#000" stroke="#222" stroke-width="0.5"/>
<circle cx="113.7" cy="368.56" r="2.85" fill="#0000ff" stroke="#222" stroke-width="0.5"/>
<circle cx="360.9" cy="368.56" r="2.85" fill="#000" stroke="#222" stroke-width="0.5"/>
<circle cx="373.8" cy="368.56" r="2.85" fill="#ff0000" stroke="#222" stroke-width="0.5"/>
<circle cx="452.4" cy="368.56" r="2.85" fill="#000" stroke="#222" stroke-width="0.5"/>
<circle cx="484.1" cy="368.56" r="2.85" fill="#000" stroke="#222" stroke-width="0.5"/>
<circle cx="495.5" cy="368.56" r="2.85" fill="#ff0000" stroke="#222" stroke-width="0.5"/>
<circle cx="506.5" cy="368.56" r="2.85" fill="#ff0000" stroke="#222" stroke-width="0.5"/>
<circle cx="536.9" cy="368.56" r="2.85" fill="#0000ff" stroke="#222" stroke-width="0.5"/>
<circle cx="580.4" cy="368.56" r="2.85" fill="#000" stroke="#222" stroke-width="0.5"/>
<circle cx="656.5" cy="368.56" r="2.85" fill="#000" stroke="#222" stroke-width="0.5"/>
<circle cx="668.2" cy="368.56" r="2.85" fill="#000" stroke="#222" stroke-width="0.5"/>
<circle cx="101.4" cy="382.27" r="2.85" fill="#000" stroke="#222" stroke-width="0.5"/>
<circle cx="113.7" cy="382.27" r="2.85" fill="#ff0000" stroke="#222" stroke-width="0.5"/>
<circle cx="126" cy="382.27" r="2.85" fill="#ff0000" stroke="#222" stroke-width="0.5"/>
<circle cx="155.1" cy="382.27" r="2.85" fill="#ff0000" stroke="#222" stroke-width="0.5"/>
<circle cx="239.3" cy="382.27" r="2.85" fill="#ff0000" stroke="#222" stroke-width="0.5"/>
<circle cx="113.7" cy="394.68" r="2.85" fill="#0000ff" stroke="#222" stroke-width="0.5"/>
<circle cx="155.1" cy="394.68" r="2.85" fill="#000" stroke="#222" stroke-width="0.5"/>
<circle cx="356.1" cy="394.68" r="2.85" fill="#000" stroke="#222" stroke-width="0.5"/>
<circle cx="367.9" cy="394.68" r="2.85" fill="#000" stroke="#222" stroke-width="0.5"/>
<circle cx="378.5" cy="394.68" r="2.85" fill="#ff0000" stroke="#222" stroke-width="0.5"/>
<circle cx="452" cy="394.68" r="2.85" fill="#000" stroke="#222" stroke-width="0.5"/>
<circle cx="488.5" cy="394.68" r="2.85" fill="#000" stroke="#222" stroke-width="0.5"/>
<circle cx="499.5" cy="394.68" r="2.85" fill="#ff0000" stroke="#222" stroke-width="0.5"/>
<circle cx="107.5" cy="407.39" r="2.85" fill="#000" stroke="#222" stroke-width="0.5"/>
<circle cx="120" cy="407.39" r="2.85" fill="#ff0000" stroke="#222" stroke-width="0.5"/>
<circle cx="155.1" cy="407.39" r="2.85" fill="#000" stroke="#222" stroke-width="0.5"/>
<circle cx="234" cy="407.39" r="2.85" fill="#000" stroke="#222" stroke-width="0.5"/>
<circle cx="245.4" cy="407.39" r="2.85" fill="#000" stroke="#222" stroke-width="0.5"/>
<circle cx="282" cy="407.39" r="2.85" fill="#000" stroke="#222" stroke-width="0.5"/>
<circle cx="107.5" cy="419.15" r="2.85" fill="#000" stroke="#222" stroke-width="0.5"/>
<circle cx="120" cy="419.15" r="2.85" fill="#ff0000" stroke="#222" stroke-width="0.5"/>
<circle cx="367.1" cy="419.15" r="2.85" fill="#000" stroke="#222" stroke-width="0.5"/>
<circle cx="408.3" cy="419.15" r="2.85" fill="#000" stroke="#222" stroke-width="0.5"/>
<circle cx="494.6" cy="419.15" r="2.85" fill="#000" stroke="#222" stroke-width="0.5"/>
<circle cx="535.9" cy="419.15" r="2.85" fill="#000" stroke="#222" stroke-width="0.5"/>
<circle cx="113.7" cy="431.71" r="2.85" fill="#ff0000" stroke="#222" stroke-width="0.5"/>
<circle cx="191.5" cy="431.71" r="2.85" fill="#000" stroke="#222" stroke-width="0.5"/>
<circle cx="203.3" cy="431.71" r="2.85" fill="#ff0000" stroke="#222" stroke-width="0.5"/>
<circle cx="239.3" cy="431.71" r="2.85" fill="#000" stroke="#222" stroke-width="0.5"/>
<circle cx="107.2" cy="443.87" r="2.85" fill="#0000ff" stroke="#222" stroke-width="0.5"/>
<circle cx="120" cy="443.87" r="2.85" fill="#ff0000" stroke="#222" stroke-width="0.5"/>
<circle cx="452.4" cy="443.87" r="2.85" fill="#ff0000" stroke="#222" stroke-width="0.5"/>
<circle cx="663" cy="443.87" r="2.85" fill="#ff0000" stroke="#222" stroke-width="0.5"/>
<circle cx="113.7" cy="456.48" r="2.85" fill="#000" stroke="#222" stroke-width="0.5"/>
<circle cx="144.1" cy="456.48" r="2.85" fill="#000" stroke="#222" stroke-width="0.5"/>
<circle cx="155.1" cy="456.48" r="2.85" fill="#ff0000" stroke="#222" stroke-width="0.5"/>
<circle cx="167.2" cy="456.48" r="2.85" fill="#ff0000" stroke="#222" stroke-width="0.5"/>
<circle cx="282.4" cy="456.48" r="2.85" fill="#000" stroke="#222" stroke-width="0.5"/>
<circle cx="326" cy="456.48" r="2.85" fill="#000" stroke="#222" stroke-width="0.5"/>
<circle cx="367.1" cy="456.48" r="2.85" fill="#000" stroke="#222" stroke-width="0.5"/>
<circle cx="107.5" cy="468.29" r="2.85" fill="#000" stroke="#222" stroke-width="0.5"/>
<circle cx="120" cy="468.29" r="2.85" fill="#ff0000" stroke="#222" stroke-width="0.5"/>
<circle cx="155.1" cy="468.29" r="2.85" fill="#000" stroke="#222" stroke-width="0.5"/>
<circle cx="408.3" cy="468.29" r="2.85" fill="#000" stroke="#222" stroke-width="0.5"/>
<circle cx="113.7" cy="480.75" r="2.85" fill="#000" stroke="#222" stroke-width="0.5"/>
<circle cx="148.8" cy="480.75" r="2.85" fill="#ff0000" stroke="#222" stroke-width="0.5"/>
<circle cx="160.8" cy="480.75" r="2.85" fill="#ff0000" stroke="#222" stroke-width="0.5"/>
<circle cx="494.2" cy="480.75" r="2.85" fill="#ff0000" stroke="#222" stroke-width="0.5"/>
<circle cx="114" cy="493.11" r="2.85" fill="#000" stroke="#222" stroke-width="0.5"/>
<circle cx="143.1" cy="493.11" r="2.85" fill="#000" stroke="#222" stroke-width="0.5"/>
<circle cx="155.1" cy="493.11" r="2.85" fill="#000" stroke="#222" stroke-width="0.5"/>
<circle cx="167.2" cy="493.11" r="2.85" fill="#ff0000" stroke="#222" stroke-width="0.5"/>
<circle cx="234" cy="493.11" r="2.85" fill="#000" stroke="#222" stroke-width="0.5"/>
<circle cx="245.4" cy="493.11" r="2.85" fill="#000" stroke="#222" stroke-width="0.5"/>
<circle cx="107.5" cy="504.67" r="2.85" fill="#000" stroke="#222" stroke-width="0.5"/>
<circle cx="120" cy="504.67" r="2.85" fill="#ff0000" stroke="#222" stroke-width="0.5"/>
<circle cx="148.5" cy="504.67" r="2.85" fill="#ff0000" stroke="#222" stroke-width="0.5"/>
<circle cx="113.7" cy="517.83" r="2.85" fill="#0000ff" stroke="#222" stroke-width="0.5"/>
<circle cx="155.1" cy="517.83" r="2.85" fill="#000" stroke="#222" stroke-width="0.5"/>
<circle cx="282.4" cy="517.83" r="2.85" fill="#ff0000" stroke="#222" stroke-width="0.5"/>
<circle cx="360.9" cy="517.83" r="2.85" fill="#000" stroke="#222" stroke-width="0.5"/>
<circle cx="373.8" cy="517.83" r="2.85" fill="#ff0000" stroke="#222" stroke-width="0.5"/>
<circle cx="408.9" cy="517.83" r="2.85" fill="#000" stroke="#222" stroke-width="0.5"/>
<polygon points="120.15,303.52 123.58,305.89 124.17,303.73 125.16,305.48 126.90,302.33 126.51,306.13 128.55,305.29 127.33,307.39 129.57,307.47 127.60,308.84 130.11,310.32 127.29,310.45 128.55,313.18 126.39,311.69 126.44,314.06 125.20,312.24 124.17,315.63 123.84,311.99 122.42,312.77 122.73,310.88 120.15,311.21 122.21,309.13 120.31,307.60 122.49,307.32" fill="#e2e2e2" stroke="#404040" stroke-width="0.75" stroke-linejoin="miter" stroke-miterlimit="6"/>
<polygon points="318.95,303.52 322.38,305.89 322.97,303.73 323.96,305.48 325.70,302.33 325.31,306.13 327.34,305.29 326.13,307.39 328.37,307.47 326.40,308.84 328.91,310.32 326.09,310.45 327.34,313.18 325.19,311.69 325.24,314.06 324.00,312.24 322.97,315.63 322.64,311.99 321.22,312.77 321.53,310.88 318.95,311.21 321.01,309.13 319.11,307.60 321.29,307.32" fill="#e2e2e2" stroke="#404040" stroke-width="0.75" stroke-linejoin="miter" stroke-miterlimit="6"/>
<polygon points="120.25,315.33 123.68,317.70 124.27,315.54 125.26,317.29 127.00,314.14 126.61,317.94 128.65,317.10 127.43,319.20 129.67,319.28 127.70,320.65 130.21,322.13 127.39,322.26 128.65,324.99 126.49,323.50 126.54,325.87 125.30,324.05 124.27,327.44 123.94,323.80 122.52,324.58 122.83,322.69 120.25,323.02 122.31,320.94 120.41,319.41 122.59,319.13" fill="#e2e2e2" stroke="#404040" stroke-width="0.75" stroke-linejoin="miter" stroke-miterlimit="6"/>
<polygon points="318.95,338.55 322.38,340.92 322.97,338.76 323.96,340.51 325.70,337.36 325.31,341.16 327.34,340.32 326.13,342.42 328.37,342.50 326.40,343.87 328.91,345.35 326.09,345.48 327.34,348.21 325.19,346.72 325.24,349.09 324.00,347.27 322.97,350.66 322.64,347.02 321.22,347.80 321.53,345.91 318.95,346.24 321.01,344.16 319.11,342.63 321.29,342.35" fill="#e2e2e2" stroke="#404040" stroke-width="0.75" stroke-linejoin="miter" stroke-miterlimit="6"/>
<polygon points="154.55,499.33 157.98,501.70 158.57,499.54 159.56,501.29 161.30,498.14 160.91,501.94 162.95,501.10 161.73,503.20 163.97,503.28 162.00,504.65 164.51,506.13 161.69,506.26 162.95,508.99 160.79,507.50 160.84,509.87 159.60,508.05 158.57,511.44 158.24,507.80 156.82,508.58 157.13,506.69 154.55,507.02 156.61,504.94 154.71,503.41 156.89,503.13" fill="#e2e2e2" stroke="#404040" stroke-width="0.75" stroke-linejoin="miter" stroke-miterlimit="6"/>
<polygon points="192.45,499.33 195.88,501.70 196.47,499.54 197.46,501.29 199.20,498.14 198.81,501.94 200.84,501.10 199.63,503.20 201.87,503.28 199.90,504.65 202.41,506.13 199.59,506.26 200.84,508.99 198.69,507.50 198.74,509.87 197.50,508.05 196.47,511.44 196.14,507.80 194.72,508.58 195.03,506.69 192.45,507.02 194.51,504.94 192.61,503.41 194.79,503.13" fill="#e2e2e2" stroke="#404040" stroke-width="0.75" stroke-linejoin="miter" stroke-miterlimit="6"/>
<line x1="96.2" y1="531.3" x2="676" y2="531.3" stroke="#000" stroke-width="1.3"/>
<polygon points="683.8,531.3 674.5,527.1 674.5,535.5" fill="#000"/>
<text x="116.70" y="549.9" font-size="12" text-anchor="middle">BL</text>
<text x="154.27" y="549.9" font-size="12" text-anchor="middle">1</text>
<text x="197.53" y="549.9" font-size="12" text-anchor="middle">2</text>
<text x="240.49" y="549.9" font-size="12" text-anchor="middle">3</text>
<text x="283.05" y="549.9" font-size="12" text-anchor="middle">4</text>
<text x="325.21" y="549.9" font-size="12" text-anchor="middle">5</text>
<text x="368.17" y="549.9" font-size="12" text-anchor="middle">6</text>
<text x="410.33" y="549.9" font-size="12" text-anchor="middle">7</text>
<text x="452.49" y="549.9" font-size="12" text-anchor="middle">8</text>
<text x="493.65" y="549.9" font-size="12" text-anchor="middle">9</text>
<text x="534.71" y="549.9" font-size="12" text-anchor="middle">10</text>
<text x="574.87" y="549.9" font-size="12" text-anchor="middle">11</text>
<text x="618.63" y="549.9" font-size="12" text-anchor="middle">12</text>
<text x="662.79" y="549.9" font-size="12" text-anchor="middle">≥13</text>
<rect x="10.9" y="531.7" width="32.5" height="10.9" fill="#000"/>
<text x="27.15" y="540.6" font-size="9.6" text-anchor="middle" fill="#eee">Male</text>
<rect x="10.9" y="544.1" width="32.5" height="10.6" fill="#e9edf6"/>
<text x="27.15" y="553.6" font-size="9.6" text-anchor="middle" fill="#222">Female</text>
<rect x="53.3" y="531.7" width="32.1" height="10.5" fill="#ffcccc"/>
<text x="69.35" y="540.6" font-size="9.6" text-anchor="middle" fill="#222">Low</text>
<rect x="53.3" y="544.1" width="32.1" height="10.6" fill="#ff0000"/>
<text x="69.35" y="553.5" font-size="9.6" text-anchor="middle" fill="#222">High</text>
<rect x="53.3" y="556.5" width="32.1" height="10.5" fill="#e9edf6"/>
<text x="69.35" y="566.1" font-size="9.6" text-anchor="middle" fill="#222">NA</text>
<text x="70" y="578" font-size="9.6" text-anchor="middle" fill="#222">GEP risk</text>
<ellipse cx="145.6" cy="568.6" rx="4.6" ry="4.3" fill="#000"/>
<text x="166.8" y="575.6" font-size="13.9">Iliac crest</text>
<ellipse cx="279.1" cy="571.4" rx="4.4" ry="4.0" fill="#0000ff" stroke="#444" stroke-width="0.4"/>
<text x="296.9" y="578.2" font-size="13.9">Paired iliac crest</text>
<ellipse cx="434.6" cy="571.6" rx="3.9" ry="3.9" fill="#ff0000" stroke="#444" stroke-width="0.4"/>
<text x="453.2" y="578.4" font-size="13.9">Focal lesion</text>
<polygon points="540.02,564.72 544.34,567.02 545.08,564.92 546.32,566.62 548.52,563.56 548.03,567.25 550.59,566.43 549.07,568.47 551.88,568.55 549.40,569.88 552.56,571.32 549.00,571.44 550.59,574.09 547.88,572.65 547.94,574.95 546.38,573.18 545.08,576.47 544.66,572.93 542.87,573.69 543.26,571.86 540.02,572.18 542.61,570.16 540.22,568.68 542.97,568.40" fill="#e2e2e2" stroke="#404040" stroke-width="0.8" stroke-linejoin="miter" stroke-miterlimit="6"/>
<text x="565.4" y="578.4" font-size="13.9">EMD/PCL</text>
<text x="651.8" y="574.3" font-size="13.9">Lines</text>
<defs><filter id="blur1" x="-20%" y="-50%" width="140%" height="200%"><feGaussianBlur stdDeviation="0.5"/></filter><linearGradient id="redRa" gradientUnits="userSpaceOnUse" x1="9" y1="0" x2="37" y2="0"><stop offset="0" stop-color="#ee3a48" stop-opacity="0.2"/><stop offset="0.3" stop-color="#ee3a48" stop-opacity="0.6"/><stop offset="0.6" stop-color="#ee3344" stop-opacity="0.9"/><stop offset="0.85" stop-color="#f05a66" stop-opacity="0.5"/><stop offset="1" stop-color="#f48a94" stop-opacity="0.15"/></linearGradient><linearGradient id="redLa" gradientUnits="userSpaceOnUse" x1="-9" y1="0" x2="-37" y2="0"><stop offset="0" stop-color="#ee3a48" stop-opacity="0.2"/><stop offset="0.3" stop-color="#ee3a48" stop-opacity="0.6"/><stop offset="0.6" stop-color="#ee3344" stop-opacity="0.9"/><stop offset="0.85" stop-color="#f05a66" stop-opacity="0.5"/><stop offset="1" stop-color="#f48a94" stop-opacity="0.15"/></linearGradient><linearGradient id="redRb" gradientUnits="userSpaceOnUse" x1="9" y1="0" x2="37" y2="0"><stop offset="0" stop-color="#ee3a48" stop-opacity="0.2"/><stop offset="0.3" stop-color="#ee3a48" stop-opacity="0.6"/><stop offset="0.6" stop-color="#ee3344" stop-opacity="0.9"/><stop offset="0.85" stop-color="#f05a66" stop-opacity="0.5"/><stop offset="1" stop-color="#f48a94" stop-opacity="0.15"/></linearGradient><linearGradient id="redLb" gradientUnits="userSpaceOnUse" x1="-9" y1="0" x2="-37" y2="0"><stop offset="0" stop-color="#ee3a48" stop-opacity="0.2"/><stop offset="0.3" stop-color="#ee3a48" stop-opacity="0.6"/><stop offset="0.6" stop-color="#ee3344" stop-opacity="0.9"/><stop offset="0.85" stop-color="#f05a66" stop-opacity="0.5"/><stop offset="1" stop-color="#f48a94" stop-opacity="0.15"/></linearGradient></defs>
<g transform="translate(162.8,40) scale(1.0)"><path d="M-9.10,17.30 C-10.35,15.98 -11.00,12.95 -12.50,11.10 C-14.00,9.25 -16.02,7.30 -18.10,6.20 C-20.18,5.10 -22.93,4.43 -25.00,4.50 C-27.07,4.57 -28.88,5.62 -30.50,6.60 C-32.12,7.58 -33.78,8.73 -34.70,10.40 C-35.62,12.07 -35.83,14.53 -36.00,16.60 C-36.17,18.67 -36.17,20.73 -35.70,22.80 C-35.23,24.87 -34.25,27.20 -33.20,29.00 C-32.15,30.80 -30.33,32.35 -29.40,33.60 C-28.47,34.85 -27.97,35.53 -27.60,36.50 C-27.23,37.47 -27.87,38.40 -27.20,39.40 C-26.53,40.40 -24.75,41.18 -23.60,42.50 C-22.45,43.82 -20.98,45.95 -20.30,47.30 C-19.62,48.65 -19.50,49.77 -19.50,50.60 C-19.50,51.43 -20.27,51.47 -20.30,52.30 C-20.33,53.13 -20.27,54.23 -19.70,55.60 C-19.13,56.97 -18.10,59.20 -16.90,60.50 C-15.70,61.80 -13.92,63.03 -12.50,63.40 C-11.08,63.77 -9.95,63.47 -8.40,62.70 C-6.85,61.93 -4.60,59.65 -3.20,58.80 C-1.80,57.95 -1.07,57.60 0.00,57.60 C1.07,57.60 1.80,57.95 3.20,58.80 C4.60,59.65 6.85,61.93 8.40,62.70 C9.95,63.47 11.08,63.77 12.50,63.40 C13.92,63.03 15.70,61.80 16.90,60.50 C18.10,59.20 19.13,56.97 19.70,55.60 C20.27,54.23 20.33,53.13 20.30,52.30 C20.27,51.47 19.50,51.43 19.50,50.60 C19.50,49.77 19.62,48.65 20.30,47.30 C20.98,45.95 22.45,43.82 23.60,42.50 C24.75,41.18 26.53,40.40 27.20,39.40 C27.87,38.40 27.23,37.47 27.60,36.50 C27.97,35.53 28.47,34.85 29.40,33.60 C30.33,32.35 32.15,30.80 33.20,29.00 C34.25,27.20 35.23,24.87 35.70,22.80 C36.17,20.73 36.17,18.67 36.00,16.60 C35.83,14.53 35.62,12.07 34.70,10.40 C33.78,8.73 32.12,7.58 30.50,6.60 C28.88,5.62 27.07,4.57 25.00,4.50 C22.93,4.43 20.18,5.10 18.10,6.20 C16.02,7.30 14.00,9.25 12.50,11.10 C11.00,12.95 10.35,15.98 9.10,17.30 C7.85,18.62 6.52,18.63 5.00,19.00 C3.48,19.37 1.67,19.50 0.00,19.50 C-1.67,19.50 -3.48,19.37 -5.00,19.00 C-6.52,18.63 -7.85,18.62 -9.10,17.30 Z" fill="#f1f1f1" stroke="none"/><path d="M-9.10,17.30 C-9.67,16.27 -11.00,12.95 -12.50,11.10 C-14.00,9.25 -16.02,7.30 -18.10,6.20 C-20.18,5.10 -22.93,4.43 -25.00,4.50 C-27.07,4.57 -28.88,5.62 -30.50,6.60 C-32.12,7.58 -33.78,8.73 -34.70,10.40 C-35.62,12.07 -35.83,14.53 -36.00,16.60 C-36.17,18.67 -36.17,20.73 -35.70,22.80 C-35.23,24.87 -34.25,27.20 -33.20,29.00 C-32.15,30.80 -30.33,32.35 -29.40,33.60 C-28.47,34.85 -27.97,35.53 -27.60,36.50 C-27.23,37.47 -27.87,38.40 -27.20,39.40 C-26.53,40.40 -24.75,41.18 -23.60,42.50 C-22.45,43.82 -20.98,45.95 -20.30,47.30 C-19.62,48.65 -19.50,49.77 -19.50,50.60 C-19.50,51.43 -20.27,51.47 -20.30,52.30 C-20.33,53.13 -20.27,54.23 -19.70,55.60 C-19.13,56.97 -18.10,59.20 -16.90,60.50 C-15.70,61.80 -13.92,63.03 -12.50,63.40 C-11.08,63.77 -9.95,63.47 -8.40,62.70 C-6.85,61.93 -4.60,59.65 -3.20,58.80 C-1.80,57.95 -0.53,57.80 0.00,57.60" fill="none" stroke="#2e333b" stroke-width="0.85" stroke-linejoin="round" stroke-linecap="round"/><path d="M-36.00,16.80 C-35.32,17.48 -33.07,19.32 -31.90,20.90 C-30.73,22.48 -29.72,24.62 -29.00,26.30 C-28.28,27.98 -27.83,29.30 -27.60,31.00 C-27.37,32.70 -27.60,35.58 -27.60,36.50" fill="none" stroke="#2e333b" stroke-width="0.85" stroke-linejoin="round" stroke-linecap="round"/><path d="M-16.30,11.10 C-16.12,11.78 -14.90,13.37 -15.20,15.20 C-15.50,17.03 -17.25,20.25 -18.10,22.10 C-18.95,23.95 -19.88,25.03 -20.30,26.30 C-20.72,27.57 -20.55,29.13 -20.60,29.70" fill="none" stroke="#2e333b" stroke-width="0.85" stroke-linejoin="round" stroke-linecap="round"/><path d="M-9.60,31.50 C-10.10,31.65 -11.80,31.88 -12.60,32.40 C-13.40,32.92 -14.08,33.72 -14.40,34.60 C-14.72,35.48 -14.80,36.60 -14.50,37.70 C-14.20,38.80 -13.52,40.05 -12.60,41.20 C-11.68,42.35 -10.27,43.70 -9.00,44.60 C-7.73,45.50 -6.17,46.17 -5.00,46.60 C-3.83,47.03 -2.50,47.10 -2.00,47.20" fill="none" stroke="#2e333b" stroke-width="0.85" stroke-linejoin="round" stroke-linecap="round"/><path d="M-10.20,50.40 C-9.42,50.43 -8.03,50.92 -7.40,51.60 C-6.77,52.28 -6.37,53.50 -6.40,54.50 C-6.43,55.50 -6.97,57.15 -7.60,57.60 C-8.23,58.05 -9.47,57.72 -10.20,57.20 C-10.93,56.68 -11.68,55.47 -12.00,54.50 C-12.32,53.53 -12.40,52.08 -12.10,51.40 C-11.80,50.72 -10.98,50.37 -10.20,50.40 Z" fill="none" stroke="#2e333b" stroke-width="0.85" stroke-linejoin="round" stroke-linecap="round"/><path d="M0.00,19.00 C-0.53,18.97 -2.37,18.77 -3.20,18.80 C-4.03,18.83 -4.28,19.10 -5.00,19.20 C-5.72,19.30 -6.78,19.18 -7.50,19.40 C-8.22,19.62 -8.90,19.32 -9.30,20.50 C-9.70,21.68 -9.92,24.17 -9.90,26.50 C-9.88,28.83 -9.77,32.33 -9.20,34.50 C-8.63,36.67 -7.62,38.28 -6.50,39.50 C-5.38,40.72 -3.58,41.35 -2.50,41.80 C-1.42,42.25 -0.42,42.13 0.00,42.20" fill="none" stroke="#2e333b" stroke-width="0.85" stroke-linejoin="round" stroke-linecap="round"/><ellipse cx="-5.7" cy="16.7" rx="2.5" ry="2.4" fill="#f1f1f1" stroke="#2e333b" stroke-width="0.85"/><ellipse cx="-5.1" cy="27.2" rx="1.35" ry="1.05" fill="none" stroke="#2e333b" stroke-width="0.7"/><ellipse cx="-5.1" cy="31.5" rx="1.35" ry="1.05" fill="none" stroke="#2e333b" stroke-width="0.7"/><ellipse cx="-5.1" cy="35.8" rx="1.35" ry="1.05" fill="none" stroke="#2e333b" stroke-width="0.7"/><path d="M-3.7,23.8 L-3.7,37.9" fill="none" stroke="#2e333b" stroke-width="0.85" stroke-linejoin="round" stroke-linecap="round"/><path d="M9.10,17.30 C9.67,16.27 11.00,12.95 12.50,11.10 C14.00,9.25 16.02,7.30 18.10,6.20 C20.18,5.10 22.93,4.43 25.00,4.50 C27.07,4.57 28.88,5.62 30.50,6.60 C32.12,7.58 33.78,8.73 34.70,10.40 C35.62,12.07 35.83,14.53 36.00,16.60 C36.17,18.67 36.17,20.73 35.70,22.80 C35.23,24.87 34.25,27.20 33.20,29.00 C32.15,30.80 30.33,32.35 29.40,33.60 C28.47,34.85 27.97,35.53 27.60,36.50 C27.23,37.47 27.87,38.40 27.20,39.40 C26.53,40.40 24.75,41.18 23.60,42.50 C22.45,43.82 20.98,45.95 20.30,47.30 C19.62,48.65 19.50,49.77 19.50,50.60 C19.50,51.43 20.27,51.47 20.30,52.30 C20.33,53.13 20.27,54.23 19.70,55.60 C19.13,56.97 18.10,59.20 16.90,60.50 C15.70,61.80 13.92,63.03 12.50,63.40 C11.08,63.77 9.95,63.47 8.40,62.70 C6.85,61.93 4.60,59.65 3.20,58.80 C1.80,57.95 0.53,57.80 0.00,57.60" fill="none" stroke="#2e333b" stroke-width="0.85" stroke-linejoin="round" stroke-linecap="round"/><path d="M36.00,16.80 C35.32,17.48 33.07,19.32 31.90,20.90 C30.73,22.48 29.72,24.62 29.00,26.30 C28.28,27.98 27.83,29.30 27.60,31.00 C27.37,32.70 27.60,35.58 27.60,36.50" fill="none" stroke="#2e333b" stroke-width="0.85" stroke-linejoin="round" stroke-linecap="round"/><path d="M16.30,11.10 C16.12,11.78 14.90,13.37 15.20,15.20 C15.50,17.03 17.25,20.25 18.10,22.10 C18.95,23.95 19.88,25.03 20.30,26.30 C20.72,27.57 20.55,29.13 20.60,29.70" fill="none" stroke="#2e333b" stroke-width="0.85" stroke-linejoin="round" stroke-linecap="round"/><path d="M9.60,31.50 C10.10,31.65 11.80,31.88 12.60,32.40 C13.40,32.92 14.08,33.72 14.40,34.60 C14.72,35.48 14.80,36.60 14.50,37.70 C14.20,38.80 13.52,40.05 12.60,41.20 C11.68,42.35 10.27,43.70 9.00,44.60 C7.73,45.50 6.17,46.17 5.00,46.60 C3.83,47.03 2.50,47.10 2.00,47.20" fill="none" stroke="#2e333b" stroke-width="0.85" stroke-linejoin="round" stroke-linecap="round"/><path d="M10.20,50.40 C9.42,50.43 8.03,50.92 7.40,51.60 C6.77,52.28 6.37,53.50 6.40,54.50 C6.43,55.50 6.97,57.15 7.60,57.60 C8.23,58.05 9.47,57.72 10.20,57.20 C10.93,56.68 11.68,55.47 12.00,54.50 C12.32,53.53 12.40,52.08 12.10,51.40 C11.80,50.72 10.98,50.37 10.20,50.40 Z" fill="none" stroke="#2e333b" stroke-width="0.85" stroke-linejoin="round" stroke-linecap="round"/><path d="M0.00,19.00 C0.53,18.97 2.37,18.77 3.20,18.80 C4.03,18.83 4.28,19.10 5.00,19.20 C5.72,19.30 6.78,19.18 7.50,19.40 C8.22,19.62 8.90,19.32 9.30,20.50 C9.70,21.68 9.92,24.17 9.90,26.50 C9.88,28.83 9.77,32.33 9.20,34.50 C8.63,36.67 7.62,38.28 6.50,39.50 C5.38,40.72 3.58,41.35 2.50,41.80 C1.42,42.25 0.42,42.13 0.00,42.20" fill="none" stroke="#2e333b" stroke-width="0.85" stroke-linejoin="round" stroke-linecap="round"/><ellipse cx="5.7" cy="16.7" rx="2.5" ry="2.4" fill="#f1f1f1" stroke="#2e333b" stroke-width="0.85"/><ellipse cx="5.1" cy="27.2" rx="1.35" ry="1.05" fill="none" stroke="#2e333b" stroke-width="0.7"/><ellipse cx="5.1" cy="31.5" rx="1.35" ry="1.05" fill="none" stroke="#2e333b" stroke-width="0.7"/><ellipse cx="5.1" cy="35.8" rx="1.35" ry="1.05" fill="none" stroke="#2e333b" stroke-width="0.7"/><path d="M3.7,23.8 L3.7,37.9" fill="none" stroke="#2e333b" stroke-width="0.85" stroke-linejoin="round" stroke-linecap="round"/><ellipse cx="0" cy="18.2" rx="1.6" ry="1.0" fill="#f1f1f1" stroke="#2e333b" stroke-width="0.75"/><path d="M-1.0,25.4 L0,26.299999999999997 L1.0,25.4" fill="none" stroke="#2e333b" stroke-width="0.85" stroke-linejoin="round" stroke-linecap="round"/><path d="M-1.0,30.0 L0,30.9 L1.0,30.0" fill="none" stroke="#2e333b" stroke-width="0.85" stroke-linejoin="round" stroke-linecap="round"/><path d="M-1.0,34.6 L0,35.5 L1.0,34.6" fill="none" stroke="#2e333b" stroke-width="0.85" stroke-linejoin="round" stroke-linecap="round"/><path d="M-1.0,38.8 L0,39.699999999999996 L1.0,38.8" fill="none" stroke="#2e333b" stroke-width="0.85" stroke-linejoin="round" stroke-linecap="round"/><ellipse cx="0" cy="44.3" rx="4.0" ry="2.2" fill="#f1f1f1" stroke="#3a3f48" stroke-width="0.75"/><rect x="-2.4" y="47.2" width="4.8" height="10" rx="1.6" fill="#f1f1f1" stroke="#3a3f48" stroke-width="0.75"/><path d="M0,48.5 L0,56" fill="none" stroke="#2e333b" stroke-width="0.85" stroke-linejoin="round" stroke-linecap="round"/><path d="M10.60,14.60 C10.98,13.98 11.65,12.30 12.90,10.90 C14.15,9.50 16.08,7.27 18.10,6.20 C20.12,5.13 22.93,4.43 25.00,4.50 C27.07,4.57 28.88,5.62 30.50,6.60 C32.12,7.58 34.00,9.77 34.70,10.40" fill="none" stroke="url(#redRa)" stroke-width="5.5" stroke-linecap="round" filter="url(#blur1)" transform="translate(-1.0,2.0)"/></g>
<g transform="translate(313.2,39.5) scale(1.0)"><path d="M-9.10,17.30 C-10.35,15.98 -11.00,12.95 -12.50,11.10 C-14.00,9.25 -16.02,7.30 -18.10,6.20 C-20.18,5.10 -22.93,4.43 -25.00,4.50 C-27.07,4.57 -28.88,5.62 -30.50,6.60 C-32.12,7.58 -33.78,8.73 -34.70,10.40 C-35.62,12.07 -35.83,14.53 -36.00,16.60 C-36.17,18.67 -36.17,20.73 -35.70,22.80 C-35.23,24.87 -34.25,27.20 -33.20,29.00 C-32.15,30.80 -30.33,32.35 -29.40,33.60 C-28.47,34.85 -27.97,35.53 -27.60,36.50 C-27.23,37.47 -27.87,38.40 -27.20,39.40 C-26.53,40.40 -24.75,41.18 -23.60,42.50 C-22.45,43.82 -20.98,45.95 -20.30,47.30 C-19.62,48.65 -19.50,49.77 -19.50,50.60 C-19.50,51.43 -20.27,51.47 -20.30,52.30 C-20.33,53.13 -20.27,54.23 -19.70,55.60 C-19.13,56.97 -18.10,59.20 -16.90,60.50 C-15.70,61.80 -13.92,63.03 -12.50,63.40 C-11.08,63.77 -9.95,63.47 -8.40,62.70 C-6.85,61.93 -4.60,59.65 -3.20,58.80 C-1.80,57.95 -1.07,57.60 0.00,57.60 C1.07,57.60 1.80,57.95 3.20,58.80 C4.60,59.65 6.85,61.93 8.40,62.70 C9.95,63.47 11.08,63.77 12.50,63.40 C13.92,63.03 15.70,61.80 16.90,60.50 C18.10,59.20 19.13,56.97 19.70,55.60 C20.27,54.23 20.33,53.13 20.30,52.30 C20.27,51.47 19.50,51.43 19.50,50.60 C19.50,49.77 19.62,48.65 20.30,47.30 C20.98,45.95 22.45,43.82 23.60,42.50 C24.75,41.18 26.53,40.40 27.20,39.40 C27.87,38.40 27.23,37.47 27.60,36.50 C27.97,35.53 28.47,34.85 29.40,33.60 C30.33,32.35 32.15,30.80 33.20,29.00 C34.25,27.20 35.23,24.87 35.70,22.80 C36.17,20.73 36.17,18.67 36.00,16.60 C35.83,14.53 35.62,12.07 34.70,10.40 C33.78,8.73 32.12,7.58 30.50,6.60 C28.88,5.62 27.07,4.57 25.00,4.50 C22.93,4.43 20.18,5.10 18.10,6.20 C16.02,7.30 14.00,9.25 12.50,11.10 C11.00,12.95 10.35,15.98 9.10,17.30 C7.85,18.62 6.52,18.63 5.00,19.00 C3.48,19.37 1.67,19.50 0.00,19.50 C-1.67,19.50 -3.48,19.37 -5.00,19.00 C-6.52,18.63 -7.85,18.62 -9.10,17.30 Z" fill="#f1f1f1" stroke="none"/><path d="M-9.10,17.30 C-9.67,16.27 -11.00,12.95 -12.50,11.10 C-14.00,9.25 -16.02,7.30 -18.10,6.20 C-20.18,5.10 -22.93,4.43 -25.00,4.50 C-27.07,4.57 -28.88,5.62 -30.50,6.60 C-32.12,7.58 -33.78,8.73 -34.70,10.40 C-35.62,12.07 -35.83,14.53 -36.00,16.60 C-36.17,18.67 -36.17,20.73 -35.70,22.80 C-35.23,24.87 -34.25,27.20 -33.20,29.00 C-32.15,30.80 -30.33,32.35 -29.40,33.60 C-28.47,34.85 -27.97,35.53 -27.60,36.50 C-27.23,37.47 -27.87,38.40 -27.20,39.40 C-26.53,40.40 -24.75,41.18 -23.60,42.50 C-22.45,43.82 -20.98,45.95 -20.30,47.30 C-19.62,48.65 -19.50,49.77 -19.50,50.60 C-19.50,51.43 -20.27,51.47 -20.30,52.30 C-20.33,53.13 -20.27,54.23 -19.70,55.60 C-19.13,56.97 -18.10,59.20 -16.90,60.50 C-15.70,61.80 -13.92,63.03 -12.50,63.40 C-11.08,63.77 -9.95,63.47 -8.40,62.70 C-6.85,61.93 -4.60,59.65 -3.20,58.80 C-1.80,57.95 -0.53,57.80 0.00,57.60" fill="none" stroke="#2e333b" stroke-width="0.85" stroke-linejoin="round" stroke-linecap="round"/><path d="M-36.00,16.80 C-35.32,17.48 -33.07,19.32 -31.90,20.90 C-30.73,22.48 -29.72,24.62 -29.00,26.30 C-28.28,27.98 -27.83,29.30 -27.60,31.00 C-27.37,32.70 -27.60,35.58 -27.60,36.50" fill="none" stroke="#2e333b" stroke-width="0.85" stroke-linejoin="round" stroke-linecap="round"/><path d="M-16.30,11.10 C-16.12,11.78 -14.90,13.37 -15.20,15.20 C-15.50,17.03 -17.25,20.25 -18.10,22.10 C-18.95,23.95 -19.88,25.03 -20.30,26.30 C-20.72,27.57 -20.55,29.13 -20.60,29.70" fill="none" stroke="#2e333b" stroke-width="0.85" stroke-linejoin="round" stroke-linecap="round"/><path d="M-9.60,31.50 C-10.10,31.65 -11.80,31.88 -12.60,32.40 C-13.40,32.92 -14.08,33.72 -14.40,34.60 C-14.72,35.48 -14.80,36.60 -14.50,37.70 C-14.20,38.80 -13.52,40.05 -12.60,41.20 C-11.68,42.35 -10.27,43.70 -9.00,44.60 C-7.73,45.50 -6.17,46.17 -5.00,46.60 C-3.83,47.03 -2.50,47.10 -2.00,47.20" fill="none" stroke="#2e333b" stroke-width="0.85" stroke-linejoin="round" stroke-linecap="round"/><path d="M-10.20,50.40 C-9.42,50.43 -8.03,50.92 -7.40,51.60 C-6.77,52.28 -6.37,53.50 -6.40,54.50 C-6.43,55.50 -6.97,57.15 -7.60,57.60 C-8.23,58.05 -9.47,57.72 -10.20,57.20 C-10.93,56.68 -11.68,55.47 -12.00,54.50 C-12.32,53.53 -12.40,52.08 -12.10,51.40 C-11.80,50.72 -10.98,50.37 -10.20,50.40 Z" fill="none" stroke="#2e333b" stroke-width="0.85" stroke-linejoin="round" stroke-linecap="round"/><path d="M0.00,19.00 C-0.53,18.97 -2.37,18.77 -3.20,18.80 C-4.03,18.83 -4.28,19.10 -5.00,19.20 C-5.72,19.30 -6.78,19.18 -7.50,19.40 C-8.22,19.62 -8.90,19.32 -9.30,20.50 C-9.70,21.68 -9.92,24.17 -9.90,26.50 C-9.88,28.83 -9.77,32.33 -9.20,34.50 C-8.63,36.67 -7.62,38.28 -6.50,39.50 C-5.38,40.72 -3.58,41.35 -2.50,41.80 C-1.42,42.25 -0.42,42.13 0.00,42.20" fill="none" stroke="#2e333b" stroke-width="0.85" stroke-linejoin="round" stroke-linecap="round"/><ellipse cx="-5.7" cy="16.7" rx="2.5" ry="2.4" fill="#f1f1f1" stroke="#2e333b" stroke-width="0.85"/><ellipse cx="-5.1" cy="27.2" rx="1.35" ry="1.05" fill="none" stroke="#2e333b" stroke-width="0.7"/><ellipse cx="-5.1" cy="31.5" rx="1.35" ry="1.05" fill="none" stroke="#2e333b" stroke-width="0.7"/><ellipse cx="-5.1" cy="35.8" rx="1.35" ry="1.05" fill="none" stroke="#2e333b" stroke-width="0.7"/><path d="M-3.7,23.8 L-3.7,37.9" fill="none" stroke="#2e333b" stroke-width="0.85" stroke-linejoin="round" stroke-linecap="round"/><path d="M9.10,17.30 C9.67,16.27 11.00,12.95 12.50,11.10 C14.00,9.25 16.02,7.30 18.10,6.20 C20.18,5.10 22.93,4.43 25.00,4.50 C27.07,4.57 28.88,5.62 30.50,6.60 C32.12,7.58 33.78,8.73 34.70,10.40 C35.62,12.07 35.83,14.53 36.00,16.60 C36.17,18.67 36.17,20.73 35.70,22.80 C35.23,24.87 34.25,27.20 33.20,29.00 C32.15,30.80 30.33,32.35 29.40,33.60 C28.47,34.85 27.97,35.53 27.60,36.50 C27.23,37.47 27.87,38.40 27.20,39.40 C26.53,40.40 24.75,41.18 23.60,42.50 C22.45,43.82 20.98,45.95 20.30,47.30 C19.62,48.65 19.50,49.77 19.50,50.60 C19.50,51.43 20.27,51.47 20.30,52.30 C20.33,53.13 20.27,54.23 19.70,55.60 C19.13,56.97 18.10,59.20 16.90,60.50 C15.70,61.80 13.92,63.03 12.50,63.40 C11.08,63.77 9.95,63.47 8.40,62.70 C6.85,61.93 4.60,59.65 3.20,58.80 C1.80,57.95 0.53,57.80 0.00,57.60" fill="none" stroke="#2e333b" stroke-width="0.85" stroke-linejoin="round" stroke-linecap="round"/><path d="M36.00,16.80 C35.32,17.48 33.07,19.32 31.90,20.90 C30.73,22.48 29.72,24.62 29.00,26.30 C28.28,27.98 27.83,29.30 27.60,31.00 C27.37,32.70 27.60,35.58 27.60,36.50" fill="none" stroke="#2e333b" stroke-width="0.85" stroke-linejoin="round" stroke-linecap="round"/><path d="M16.30,11.10 C16.12,11.78 14.90,13.37 15.20,15.20 C15.50,17.03 17.25,20.25 18.10,22.10 C18.95,23.95 19.88,25.03 20.30,26.30 C20.72,27.57 20.55,29.13 20.60,29.70" fill="none" stroke="#2e333b" stroke-width="0.85" stroke-linejoin="round" stroke-linecap="round"/><path d="M9.60,31.50 C10.10,31.65 11.80,31.88 12.60,32.40 C13.40,32.92 14.08,33.72 14.40,34.60 C14.72,35.48 14.80,36.60 14.50,37.70 C14.20,38.80 13.52,40.05 12.60,41.20 C11.68,42.35 10.27,43.70 9.00,44.60 C7.73,45.50 6.17,46.17 5.00,46.60 C3.83,47.03 2.50,47.10 2.00,47.20" fill="none" stroke="#2e333b" stroke-width="0.85" stroke-linejoin="round" stroke-linecap="round"/><path d="M10.20,50.40 C9.42,50.43 8.03,50.92 7.40,51.60 C6.77,52.28 6.37,53.50 6.40,54.50 C6.43,55.50 6.97,57.15 7.60,57.60 C8.23,58.05 9.47,57.72 10.20,57.20 C10.93,56.68 11.68,55.47 12.00,54.50 C12.32,53.53 12.40,52.08 12.10,51.40 C11.80,50.72 10.98,50.37 10.20,50.40 Z" fill="none" stroke="#2e333b" stroke-width="0.85" stroke-linejoin="round" stroke-linecap="round"/><path d="M0.00,19.00 C0.53,18.97 2.37,18.77 3.20,18.80 C4.03,18.83 4.28,19.10 5.00,19.20 C5.72,19.30 6.78,19.18 7.50,19.40 C8.22,19.62 8.90,19.32 9.30,20.50 C9.70,21.68 9.92,24.17 9.90,26.50 C9.88,28.83 9.77,32.33 9.20,34.50 C8.63,36.67 7.62,38.28 6.50,39.50 C5.38,40.72 3.58,41.35 2.50,41.80 C1.42,42.25 0.42,42.13 0.00,42.20" fill="none" stroke="#2e333b" stroke-width="0.85" stroke-linejoin="round" stroke-linecap="round"/><ellipse cx="5.7" cy="16.7" rx="2.5" ry="2.4" fill="#f1f1f1" stroke="#2e333b" stroke-width="0.85"/><ellipse cx="5.1" cy="27.2" rx="1.35" ry="1.05" fill="none" stroke="#2e333b" stroke-width="0.7"/><ellipse cx="5.1" cy="31.5" rx="1.35" ry="1.05" fill="none" stroke="#2e333b" stroke-width="0.7"/><ellipse cx="5.1" cy="35.8" rx="1.35" ry="1.05" fill="none" stroke="#2e333b" stroke-width="0.7"/><path d="M3.7,23.8 L3.7,37.9" fill="none" stroke="#2e333b" stroke-width="0.85" stroke-linejoin="round" stroke-linecap="round"/><ellipse cx="0" cy="18.2" rx="1.6" ry="1.0" fill="#f1f1f1" stroke="#2e333b" stroke-width="0.75"/><path d="M-1.0,25.4 L0,26.299999999999997 L1.0,25.4" fill="none" stroke="#2e333b" stroke-width="0.85" stroke-linejoin="round" stroke-linecap="round"/><path d="M-1.0,30.0 L0,30.9 L1.0,30.0" fill="none" stroke="#2e333b" stroke-width="0.85" stroke-linejoin="round" stroke-linecap="round"/><path d="M-1.0,34.6 L0,35.5 L1.0,34.6" fill="none" stroke="#2e333b" stroke-width="0.85" stroke-linejoin="round" stroke-linecap="round"/><path d="M-1.0,38.8 L0,39.699999999999996 L1.0,38.8" fill="none" stroke="#2e333b" stroke-width="0.85" stroke-linejoin="round" stroke-linecap="round"/><ellipse cx="0" cy="44.3" rx="4.0" ry="2.2" fill="#f1f1f1" stroke="#3a3f48" stroke-width="0.75"/><rect x="-2.4" y="47.2" width="4.8" height="10" rx="1.6" fill="#f1f1f1" stroke="#3a3f48" stroke-width="0.75"/><path d="M0,48.5 L0,56" fill="none" stroke="#2e333b" stroke-width="0.85" stroke-linejoin="round" stroke-linecap="round"/><path d="M10.60,14.60 C10.98,13.98 11.65,12.30 12.90,10.90 C14.15,9.50 16.08,7.27 18.10,6.20 C20.12,5.13 22.93,4.43 25.00,4.50 C27.07,4.57 28.88,5.62 30.50,6.60 C32.12,7.58 34.00,9.77 34.70,10.40" fill="none" stroke="url(#redRb)" stroke-width="5.5" stroke-linecap="round" filter="url(#blur1)" transform="translate(-1.0,2.0)"/><path d="M-10.60,14.60 C-10.98,13.98 -11.65,12.30 -12.90,10.90 C-14.15,9.50 -16.08,7.27 -18.10,6.20 C-20.12,5.13 -22.93,4.43 -25.00,4.50 C-27.07,4.57 -28.88,5.62 -30.50,6.60 C-32.12,7.58 -34.00,9.77 -34.70,10.40" fill="none" stroke="url(#redLb)" stroke-width="5.5" stroke-linecap="round" filter="url(#blur1)" transform="translate(1.0,2.0)"/></g>
<path d="M446.00,60.50 C440.55,61.00 446.17,62.45 444.50,63.50 C442.83,64.55 438.75,65.83 436.00,66.80 C433.25,67.77 429.95,68.55 428.00,69.30 C426.05,70.05 424.80,70.63 424.30,71.30 C423.80,71.97 423.72,72.95 425.00,73.30 C426.28,73.65 429.50,73.58 432.00,73.40 C434.50,73.22 438.28,72.23 440.00,72.20 C441.72,72.17 441.93,72.48 442.30,73.20 C442.67,73.92 441.95,75.53 442.20,76.50 C442.45,77.47 443.00,78.52 443.80,79.00 C444.60,79.48 446.03,79.73 447.00,79.40 C447.97,79.07 448.93,78.03 449.60,77.00 C450.27,75.97 450.18,73.67 451.00,73.20 C451.82,72.73 453.42,73.48 454.50,74.20 C455.58,74.92 456.87,75.20 457.50,77.50 C458.13,79.80 458.25,85.33 458.30,88.00 C458.35,90.67 457.60,92.12 457.80,93.50 C458.00,94.88 458.87,95.75 459.50,96.30 C460.13,96.85 460.90,96.80 461.60,96.80 C462.30,96.80 463.07,96.85 463.70,96.30 C464.33,95.75 465.20,94.88 465.40,93.50 C465.60,92.12 464.85,90.67 464.90,88.00 C464.95,85.33 465.07,79.80 465.70,77.50 C466.33,75.20 467.62,74.92 468.70,74.20 C469.78,73.48 471.38,72.73 472.20,73.20 C473.02,73.67 472.93,75.97 473.60,77.00 C474.27,78.03 475.23,79.07 476.20,79.40 C477.17,79.73 478.60,79.48 479.40,79.00 C480.20,78.52 480.75,77.47 481.00,76.50 C481.25,75.53 480.53,73.92 480.90,73.20 C481.27,72.48 481.48,72.17 483.20,72.20 C484.92,72.23 488.70,73.22 491.20,73.40 C493.70,73.58 496.92,73.65 498.20,73.30 C499.48,72.95 499.40,71.97 498.90,71.30 C498.40,70.63 497.15,70.05 495.20,69.30 C493.25,68.55 489.95,67.77 487.20,66.80 C484.45,65.83 480.37,64.55 478.70,63.50 C477.03,62.45 482.65,61.00 477.20,60.50 C471.75,60.00 451.45,60.00 446.00,60.50 Z" fill="#f4f4f4" stroke="#000" stroke-width="1.1" stroke-linejoin="round"/><path d="M450.50,63.00 C452.20,62.55 457.90,63.60 461.60,63.60 C465.30,63.60 471.00,62.55 472.70,63.00 C474.40,63.45 472.83,65.33 471.80,66.30 C470.77,67.27 468.20,68.03 466.50,68.80 C464.80,69.57 463.23,70.90 461.60,70.90 C459.97,70.90 458.40,69.57 456.70,68.80 C455.00,68.03 452.43,67.27 451.40,66.30 C450.37,65.33 448.80,63.45 450.50,63.00 Z" fill="#fff" stroke="#000" stroke-width="1.1" stroke-linejoin="round"/><path d="M446.5,66.5 Q448.5,70 447.5,76" fill="none" stroke="#000" stroke-width="1.1" stroke-linejoin="round"/><path d="M476.7,66.5 Q474.7,70 475.7,76" fill="none" stroke="#000" stroke-width="1.1" stroke-linejoin="round"/><path d="M460.5,75 L460.3,92 M462.7,75 L462.9,92" fill="none" stroke="#222" stroke-width="0.5"/><path d="M461.60,34.90 C465.07,34.90 468.93,35.12 472.00,35.90 C475.07,36.68 477.95,37.92 480.00,39.60 C482.05,41.28 483.62,43.77 484.30,46.00 C484.98,48.23 484.65,50.90 484.10,53.00 C483.55,55.10 482.35,57.23 481.00,58.60 C479.65,59.97 478.17,60.65 476.00,61.20 C473.83,61.75 470.40,61.88 468.00,61.90 C465.60,61.92 463.73,61.30 461.60,61.30 C459.47,61.30 457.60,61.92 455.20,61.90 C452.80,61.88 449.37,61.75 447.20,61.20 C445.03,60.65 443.55,59.97 442.20,58.60 C440.85,57.23 439.65,55.10 439.10,53.00 C438.55,50.90 438.22,48.23 438.90,46.00 C439.58,43.77 441.15,41.28 443.20,39.60 C445.25,37.92 448.13,36.68 451.20,35.90 C454.27,35.12 458.13,34.90 461.60,34.90 Z" fill="#f8f8f8" stroke="#111" stroke-width="1.05"/><path d="M461.60,36.60 C464.90,36.60 468.67,36.77 471.50,37.50 C474.33,38.23 476.80,39.50 478.60,41.00 C480.40,42.50 481.72,44.58 482.30,46.50 C482.88,48.42 482.57,50.70 482.10,52.50 C481.63,54.30 480.68,56.12 479.50,57.30 C478.32,58.48 476.92,59.10 475.00,59.60 C473.08,60.10 470.23,60.27 468.00,60.30 C465.77,60.33 463.73,59.80 461.60,59.80 C459.47,59.80 457.43,60.33 455.20,60.30 C452.97,60.27 450.12,60.10 448.20,59.60 C446.28,59.10 444.88,58.48 443.70,57.30 C442.52,56.12 441.57,54.30 441.10,52.50 C440.63,50.70 440.32,48.42 440.90,46.50 C441.48,44.58 442.80,42.50 444.60,41.00 C446.40,39.50 448.87,38.23 451.70,37.50 C454.53,36.77 458.30,36.60 461.60,36.60 Z" fill="#fff" stroke="#333" stroke-width="0.6"/><path d="M461.60,39.60 C464.73,39.60 468.43,39.73 471.00,40.30 C473.57,40.87 475.73,41.63 477.00,43.00 C478.27,44.37 478.47,46.58 478.60,48.50 C478.73,50.42 478.57,52.98 477.80,54.50 C477.03,56.02 476.70,57.02 474.00,57.60 C471.30,58.18 465.73,58.00 461.60,58.00 C457.47,58.00 451.90,58.18 449.20,57.60 C446.50,57.02 446.17,56.02 445.40,54.50 C444.63,52.98 444.47,50.42 444.60,48.50 C444.73,46.58 444.93,44.37 446.20,43.00 C447.47,41.63 449.63,40.87 452.20,40.30 C454.77,39.73 458.47,39.60 461.60,39.60 Z" fill="#fff" stroke="#444" stroke-width="0.6" stroke-dasharray="1.6,0.9"/><polygon points="448.27,40.04 458.00,43.43 459.89,40.35 462.78,42.76 467.77,38.22 466.88,43.82 472.53,42.74 469.39,45.84 475.49,46.07 470.19,48.16 477.05,50.44 469.24,50.76 472.53,54.80 466.53,52.75 466.45,56.16 462.91,53.63 459.89,58.55 458.77,53.22 454.82,54.18 455.41,51.44 448.27,51.79 453.84,48.63 448.74,46.28 454.70,45.72" fill="#ff0000" stroke="#000" stroke-width="1.3" stroke-linejoin="miter" stroke-miterlimit="10"/>
<path d="M587.40,29.10 C588.70,29.05 590.45,29.30 591.50,30.00 C592.55,30.70 593.52,32.22 593.70,33.30 C593.88,34.38 593.05,35.22 592.60,36.50 C592.15,37.78 591.33,38.42 591.00,41.00 C590.67,43.58 590.65,47.50 590.60,52.00 C590.55,56.50 590.40,63.62 590.70,68.00 C591.00,72.38 591.55,75.40 592.40,78.30 C593.25,81.20 594.97,83.52 595.80,85.40 C596.63,87.28 597.30,88.45 597.40,89.60 C597.50,90.75 597.22,91.68 596.40,92.30 C595.58,92.92 593.53,92.83 592.50,93.30 C591.47,93.77 591.08,94.88 590.20,95.10 C589.32,95.32 587.97,94.92 587.20,94.60 C586.43,94.28 586.25,93.72 585.60,93.20 C584.95,92.68 583.63,92.23 583.30,91.50 C582.97,90.77 583.12,90.17 583.60,88.80 C584.08,87.43 585.60,85.47 586.20,83.30 C586.80,81.13 587.17,79.13 587.20,75.80 C587.23,72.47 586.70,67.93 586.40,63.30 C586.10,58.67 585.70,52.05 585.40,48.00 C585.10,43.95 585.12,40.97 584.60,39.00 C584.08,37.03 582.77,37.17 582.30,36.20 C581.83,35.23 581.57,34.18 581.80,33.20 C582.03,32.22 582.77,30.98 583.70,30.30 C584.63,29.62 586.10,29.15 587.40,29.10 Z" fill="#f6f6f6" stroke="#111" stroke-width="0.95" stroke-linejoin="round"/><path d="M589.2,31 Q590.6,34 589.6,38 L589.2,55 Q588.8,68 589.6,78" fill="none" stroke="#333" stroke-width="0.6"/><path d="M583.8,35.5 Q585,31.5 588.6,30.6" fill="none" stroke="#333" stroke-width="0.6"/><path d="M586.4,93.2 Q588.5,90.5 591.5,91.5 Q593.5,90.5 596.2,91.6" fill="none" stroke="#333" stroke-width="0.6"/>
<polygon points="608.96,45.47 619.97,50.96 622.37,46.01 625.74,49.75 631.46,42.32 630.70,51.65 636.95,50.15 633.73,55.32 640.37,55.91 634.70,59.53 642.17,63.47 633.55,64.23 636.95,71.03 630.28,67.85 629.93,73.37 625.90,69.44 622.37,77.51 620.90,68.70 616.52,69.95 616.83,65.47 608.96,65.81 614.93,60.39 609.50,56.27 615.98,55.10" fill="#ff0000" stroke="#000" stroke-width="1.5" stroke-linejoin="miter" stroke-miterlimit="10"/>
<text x="259" y="46.5" font-size="13.9">left</text>
<text x="339.5" y="47.5" font-size="13.9">right</text>
<text x="301.6" y="37.5" font-size="13.9">vs.</text>
<line x1="295" y1="40.8" x2="326" y2="40.8" stroke="#000" stroke-width="1.5"/>
<polygon points="288.2,40.8 297.7,36.1 297.7,45.5" fill="#000"/>
<polygon points="332.6,40.8 323.1,36.1 323.1,45.5" fill="#000"/>
</svg>
</body></html>
